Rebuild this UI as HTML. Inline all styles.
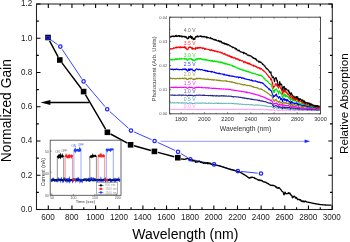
<!DOCTYPE html>
<html><head><meta charset="utf-8"><style>html,body{margin:0;padding:0;background:#fff;overflow:hidden}svg{display:block;will-change:transform}</style></head>
<body><svg width="350" height="242" viewBox="0 0 350 242"><rect x="0" y="0" width="350" height="242" fill="#fff"/><rect x="36.5" y="4.0" width="295.80" height="205.50" fill="none" stroke="#222" stroke-width="1.05"/><path d="M48.30 209.5v-4M48.30 4.0v4M60.12 209.5v-2.3M60.12 4.0v2.3M71.95 209.5v-4M71.95 4.0v4M83.78 209.5v-2.3M83.78 4.0v2.3M95.60 209.5v-4M95.60 4.0v4M107.42 209.5v-2.3M107.42 4.0v2.3M119.25 209.5v-4M119.25 4.0v4M131.07 209.5v-2.3M131.07 4.0v2.3M142.90 209.5v-4M142.90 4.0v4M154.72 209.5v-2.3M154.72 4.0v2.3M166.55 209.5v-4M166.55 4.0v4M178.38 209.5v-2.3M178.38 4.0v2.3M190.20 209.5v-4M190.20 4.0v4M202.02 209.5v-2.3M202.02 4.0v2.3M213.85 209.5v-4M213.85 4.0v4M225.68 209.5v-2.3M225.68 4.0v2.3M237.50 209.5v-4M237.50 4.0v4M249.32 209.5v-2.3M249.32 4.0v2.3M261.15 209.5v-4M261.15 4.0v4M272.97 209.5v-2.3M272.97 4.0v2.3M284.80 209.5v-4M284.80 4.0v4M296.62 209.5v-2.3M296.62 4.0v2.3M308.45 209.5v-4M308.45 4.0v4M320.27 209.5v-2.3M320.27 4.0v2.3M332.10 209.5v-4M332.10 4.0v4M36.5 209.50h4M332.3 209.50h-4M36.5 192.38h2.3M332.3 192.38h-2.3M36.5 175.25h4M332.3 175.25h-4M36.5 158.12h2.3M332.3 158.12h-2.3M36.5 141.00h4M332.3 141.00h-4M36.5 123.88h2.3M332.3 123.88h-2.3M36.5 106.75h4M332.3 106.75h-4M36.5 89.62h2.3M332.3 89.62h-2.3M36.5 72.50h4M332.3 72.50h-4M36.5 55.38h2.3M332.3 55.38h-2.3M36.5 38.25h4M332.3 38.25h-4M36.5 21.12h2.3M332.3 21.12h-2.3M36.5 4.00h4M332.3 4.00h-4" stroke="#000" stroke-width="1.1" fill="none"/><g font-family='"Liberation Sans", sans-serif' font-size="8.1" fill="#1a1a1a"><text transform="translate(32.2 211.80) scale(1 1.13)" text-anchor="end">0.0</text><text transform="translate(32.2 177.55) scale(1 1.13)" text-anchor="end">0.2</text><text transform="translate(32.2 143.30) scale(1 1.13)" text-anchor="end">0.4</text><text transform="translate(32.2 109.05) scale(1 1.13)" text-anchor="end">0.6</text><text transform="translate(32.2 74.80) scale(1 1.13)" text-anchor="end">0.8</text><text transform="translate(32.2 40.55) scale(1 1.13)" text-anchor="end">1.0</text><text transform="translate(32.2 6.30) scale(1 1.13)" text-anchor="end">1.2</text><text transform="translate(48.00 220.1) scale(1 1.13)" text-anchor="middle">600</text><text transform="translate(71.65 220.1) scale(1 1.13)" text-anchor="middle">800</text><text transform="translate(95.30 220.1) scale(1 1.13)" text-anchor="middle">1000</text><text transform="translate(118.95 220.1) scale(1 1.13)" text-anchor="middle">1200</text><text transform="translate(142.60 220.1) scale(1 1.13)" text-anchor="middle">1400</text><text transform="translate(166.25 220.1) scale(1 1.13)" text-anchor="middle">1600</text><text transform="translate(189.90 220.1) scale(1 1.13)" text-anchor="middle">1800</text><text transform="translate(213.55 220.1) scale(1 1.13)" text-anchor="middle">2000</text><text transform="translate(237.20 220.1) scale(1 1.13)" text-anchor="middle">2200</text><text transform="translate(260.85 220.1) scale(1 1.13)" text-anchor="middle">2400</text><text transform="translate(284.50 220.1) scale(1 1.13)" text-anchor="middle">2600</text><text transform="translate(308.15 220.1) scale(1 1.13)" text-anchor="middle">2800</text><text transform="translate(331.80 220.1) scale(1 1.13)" text-anchor="middle">3000</text></g><text x="132.3" y="238.6" font-family='"Liberation Sans", sans-serif' font-size="14.0" fill="#000">Wavelength (nm)</text><text transform="translate(11.3 162.2) rotate(-90)" font-family='"Liberation Sans", sans-serif' font-size="13.85" fill="#000">Normalized Gain</text><text transform="translate(348.0 154.0) rotate(-90)" font-family='"Liberation Sans", sans-serif' font-size="11.7" fill="#000">Relative Absorption</text><path d="M50.58 39.62L57.62 44.68M62.14 49.34L81.76 78.66M85.74 83.92L105.06 106.68M109.65 111.41L128.55 128.39M134.02 131.93L151.58 139.67M157.60 142.38L175.00 150.42M180.83 153.50L187.47 157.50M193.52 159.90L210.88 163.70M217.28 165.30L234.62 170.20M241.08 171.44L257.72 173.16" fill="none" stroke="#2b3bff" stroke-width="0.95"/><path d="M181.00 158.90 181.51 158.97 182.03 159.04 182.54 159.11 183.06 159.19 183.57 159.26 184.09 159.33 184.60 159.40 185.16 159.20 185.72 159.00 186.28 158.80 186.84 158.60 187.40 158.40 187.97 158.65 188.55 158.90 189.12 159.15 189.70 159.40 190.25 160.23 190.80 159.91 191.35 159.86 191.90 160.87 192.45 159.77 193.00 161.10 193.50 160.54 194.00 160.57 194.50 160.76 195.00 161.27 195.50 162.21 196.00 161.55 196.58 162.05 197.16 162.07 197.74 161.64 198.32 161.83 198.90 161.09 199.40 161.23 199.90 161.58 200.40 162.39 200.90 162.18 201.40 162.16 201.90 162.69 202.40 162.65 202.90 162.58 203.40 163.41 203.90 163.26 204.40 162.61 204.90 163.06 205.40 162.98 205.90 163.45 206.40 163.24 206.90 162.60 207.42 163.70 207.95 162.63 208.47 163.18 208.99 163.78 209.52 163.07 210.04 163.67 210.56 163.17 211.08 164.18 211.61 164.45 212.13 164.21 212.65 164.34 213.18 164.47 213.70 164.60 214.22 164.72 214.75 164.83 215.27 164.95 215.80 165.07 216.32 165.18 216.85 165.30 217.38 165.42 217.90 165.53 218.43 165.65 218.95 165.77 219.47 165.88 220.00 166.00 220.50 166.17 221.00 166.33 221.50 166.50 222.00 166.67 222.50 166.83 223.00 167.00 223.50 167.17 224.00 167.33 224.50 167.50 225.00 167.67 225.50 167.83 226.00 168.00 226.50 168.18 227.00 168.35 227.50 168.53 228.00 168.70 228.50 168.88 229.00 169.05 229.50 169.22 230.00 169.40 230.50 169.52 231.00 169.64 231.50 169.76 232.00 169.88 232.50 170.00 233.00 170.12 233.50 170.24 234.00 170.36 234.50 170.48 235.00 170.60 235.51 170.76 236.02 170.92 236.53 171.08 237.04 171.24 237.55 171.40 238.06 171.56 238.57 171.72 239.08 171.88 239.59 172.04 240.10 172.20 240.62 172.51 241.14 172.82 241.66 173.13 242.18 173.44 242.70 173.75 243.22 174.06 243.74 174.37 244.26 174.68 244.78 174.99 245.30 175.30 245.81 175.66 246.33 176.03 246.84 176.39 247.35 176.75 247.86 177.11 248.38 177.47 248.89 177.84 249.40 178.20 249.90 177.95 250.40 177.37 250.90 177.71 251.40 177.28 251.92 177.07 252.43 177.26 252.95 177.44 253.47 177.57 253.98 177.52 254.50 178.14 255.02 178.58 255.53 178.54 256.05 178.89 256.57 178.94 257.08 179.29 257.60 179.79 258.12 179.80 258.63 180.26 259.15 179.86 259.67 179.83 260.18 180.55 260.70 180.32 261.21 180.27 261.72 180.77 262.23 180.63 262.74 181.20 263.25 181.73 263.76 181.87 264.27 181.98 264.78 181.89 265.29 182.19 265.80 182.27 266.32 182.95 266.84 183.04 267.36 183.48 267.88 183.42 268.40 183.61 268.92 184.28 269.44 184.66 269.96 184.83 270.48 185.05 271.00 185.32 271.51 185.40 272.03 185.17 272.54 185.50 273.06 185.51 273.57 185.41 274.09 185.54 274.60 185.85 275.11 186.06 275.62 186.60 276.13 187.43 276.64 186.85 277.16 187.87 277.67 188.18 278.18 188.36 278.69 187.65 279.20 187.65 279.80 188.40 280.40 189.08 281.00 189.83 281.57 190.73 282.13 191.41 282.70 191.54 283.35 192.72 284.00 194.74 284.50 194.13 285.00 192.14 285.57 193.18 286.15 193.71 286.73 193.63 287.30 193.70 287.88 193.26 288.46 192.79 289.04 193.76 289.62 193.03 290.20 193.78 290.77 194.98 291.35 194.98 291.93 195.92 292.50 197.71 293.10 197.29 293.70 196.34 294.30 196.20 294.88 196.54 295.45 198.05 296.03 198.19 296.60 197.43 297.17 198.91 297.73 199.54 298.30 199.40 298.87 199.29 299.43 199.99 300.00 199.71 300.60 199.67 301.20 201.35 301.80 200.99 302.40 200.94 302.91 201.72 303.42 201.04 303.93 201.86 304.44 201.91 304.96 201.05 305.47 201.24 305.98 201.42 306.49 201.88 307.00 202.00 307.50 202.10 308.00 202.20 308.50 202.30 309.00 202.40 309.50 202.50 310.00 202.60 310.50 202.71 311.00 202.82 311.50 202.93 312.00 203.04 312.50 203.15 313.00 203.26 313.50 203.37 314.00 203.48 314.50 203.59 315.00 203.70 315.50 203.78 316.00 203.86 316.50 203.94 317.00 204.02 317.50 204.10 318.00 204.18 318.50 204.26 319.00 204.34 319.50 204.42 320.00 204.50 320.50 204.55 321.00 204.60 321.50 204.65 322.00 204.70 322.50 204.75 323.00 204.80 323.50 204.85 324.00 204.90 324.50 204.95 325.00 205.00 325.50 205.02 326.00 205.03 326.50 205.05 327.00 205.06 327.50 205.08 328.00 205.09 328.50 205.11 329.00 205.12 329.50 205.14 330.00 205.15 330.50 205.17 331.00 205.18 331.50 205.20" fill="none" stroke="#000" stroke-width="1.35" stroke-linejoin="round"/><path d="M49.59 40.88L58.11 56.82M61.97 62.88L81.43 88.72M85.42 94.71L105.58 129.19M110.57 134.01L127.43 143.09M134.07 145.76L150.93 150.44M157.88 152.34L174.32 156.76" fill="none" stroke="#000" stroke-width="1.45"/><path d="M50 102.5H89.2" stroke="#000" stroke-width="1.5"/><path d="M40.5 102.5L50.4 100.1L50.4 104.9Z" fill="#000"/><rect x="50.2" y="140.2" width="70.80" height="55.10" fill="#fff" stroke="#4a4a4a" stroke-width="0.85"/><path d="M51.20 180.13 51.50 180.98 51.80 180.75 52.10 179.20 52.40 179.17 52.70 179.87 53.00 179.06 53.30 179.43 53.60 179.06 53.90 180.37 54.20 180.62 54.50 180.87 54.80 179.24 55.10 180.48 55.40 180.35 55.70 179.21 56.00 180.84 56.30 181.03 56.60 179.38 56.90 181.00 57.20 179.78 57.50 179.97 57.80 181.08 58.10 180.73 58.40 179.26 58.70 179.85 59.00 180.03 59.30 179.65 59.60 179.33 59.90 179.60 60.20 180.49 60.50 178.94 60.80 180.12 61.10 179.87 61.40 178.94 61.70 179.63 62.00 180.27 62.30 180.03 62.60 179.04 62.90 181.07 63.20 180.63 63.50 181.04 63.80 179.13 64.10 179.48 64.40 178.99 64.70 180.61 65.00 179.49 65.30 179.19 65.60 179.83 65.90 180.91 66.20 180.70 66.50 179.47 66.80 179.23 67.10 180.92 67.40 180.16 67.70 180.44 68.00 179.10 68.30 179.03 68.60 180.41 68.90 179.84 69.20 179.06 69.50 180.96 69.80 180.30 70.10 180.66 70.40 179.08 70.70 180.78 71.00 179.05 71.30 180.80 71.60 179.90 71.90 179.65 72.20 180.12 72.50 180.94 72.80 179.49 73.10 179.18 73.40 180.06 73.70 179.42 74.00 179.14 74.30 179.26 74.60 179.01 74.90 179.34 75.20 179.59 75.50 179.57 75.80 180.57 76.10 179.54 76.40 180.00 76.70 179.29 77.00 179.66 77.30 178.94 77.60 179.45 77.90 178.93 78.20 180.51 78.50 180.11 78.80 179.32 79.10 179.94 79.40 180.96 79.70 179.13 80.00 180.70 80.30 179.85 80.60 179.99 80.90 180.74 81.20 179.76 81.50 180.01 81.80 180.41 82.10 181.06 82.40 179.65 82.70 180.73 83.00 180.45 83.30 180.30 83.60 179.79 83.90 179.66 84.20 179.02 84.50 179.19 84.80 179.06 85.10 180.53 85.40 179.46 85.70 179.26 86.00 179.09 86.30 180.75 86.60 180.82 86.90 180.38 87.20 179.52 87.50 179.43 87.80 179.54 88.10 179.91 88.40 179.25 88.70 179.88 89.00 179.48 89.30 181.02 89.60 181.04 89.90 180.10 90.20 179.44 90.50 181.02 90.80 179.58 91.10 179.68 91.40 178.90 91.70 179.74 92.00 179.94 92.30 180.01 92.60 179.34 92.90 180.01 93.20 178.91 93.50 179.48 93.80 179.10 94.10 179.78 94.40 178.99 94.70 178.95 95.00 179.57 95.30 179.41 95.60 180.19 95.90 180.06 96.20 180.55 96.50 180.35 96.80 180.48 97.10 180.83 97.40 179.76 97.70 179.62 98.00 181.07 98.30 179.23 98.60 180.49 98.90 180.32 99.20 179.00 99.50 180.74 99.80 180.86 100.10 180.28 100.40 180.51 100.70 180.69 101.00 179.21 101.30 180.05 101.60 180.01 101.90 180.74 102.20 180.67 102.50 180.72 102.80 180.18 103.10 180.86 103.40 180.40 103.70 180.43 104.00 179.41 104.30 178.97 104.60 179.19 104.90 179.69 105.20 179.13 105.50 180.74 105.80 180.13 106.10 180.28 106.40 180.28 106.70 180.40 107.00 179.98 107.30 178.91 107.60 180.65 107.90 180.55 108.20 180.01 108.50 180.08 108.80 180.35 109.10 179.05 109.40 180.52 109.70 179.45 110.00 179.06 110.30 179.48 110.60 180.50 110.90 179.35 111.20 180.53 111.50 181.05 111.80 179.99 112.10 179.74 112.40 179.95 112.70 180.40 113.00 180.59 113.30 180.26 113.60 180.31 113.90 179.07 114.20 179.22 114.50 179.46 114.80 180.54 115.10 179.57 115.40 180.15 115.70 178.93 116.00 179.03 116.30 179.49 116.60 180.38 116.90 180.42 117.20 180.39 117.50 179.54 117.80 180.04 118.10 179.92 118.40 179.93 118.70 179.16 119.00 180.87 119.30 179.34 119.60 181.05 119.90 180.96" stroke="#1a3cff" stroke-width="1.6" fill="none"/><path d="M51.20 179.32 51.50 179.94 51.80 180.45 52.10 180.66 52.40 179.93 52.70 179.68 53.00 179.59 53.30 180.62 53.60 179.59 53.90 180.11 54.20 179.50 54.50 180.03 54.80 180.63 55.10 179.49 55.40 180.45 55.70 180.01 56.00 180.54 56.30 180.28 56.60 179.62 56.90 180.56 57.20 179.98 57.50 179.33 57.80 179.31 58.10 179.99 58.40 179.93 58.70 179.72 59.00 179.50 59.30 179.78 59.60 179.74 59.90 180.48 60.20 179.30 60.50 180.35 60.80 180.47 61.10 179.47 61.40 180.60 61.70 180.30 62.00 180.56 62.30 179.71 62.60 179.82 62.90 179.85 63.20 180.70 63.50 180.12 63.80 179.80 64.10 179.90 64.40 179.69 64.70 179.37 65.00 179.44 65.30 180.47 65.60 179.70 65.90 180.61 66.20 179.65 66.50 179.67 66.80 180.02 67.10 179.57 67.40 179.82 67.70 180.64 68.00 180.54 68.30 180.44 68.60 180.18 68.90 180.58 69.20 180.62 69.50 180.07 69.80 180.31 70.10 179.37 70.40 180.33 70.70 179.93 71.00 180.35 71.30 180.20 71.60 179.70 71.90 179.37 72.20 180.60 72.50 179.48 72.80 179.96 73.10 179.78 73.40 179.72 73.70 180.33 74.00 180.67 74.30 179.66 74.60 180.22 74.90 179.72 75.20 180.08 75.50 179.85 75.80 179.53 76.10 179.53 76.40 179.59 76.70 180.57 77.00 180.00 77.30 179.61 77.60 180.57 77.90 180.70 78.20 179.93 78.50 179.50 78.80 179.57 79.10 179.43 79.40 179.78 79.70 179.43 80.00 179.63 80.30 179.66 80.60 180.10 80.90 180.54 81.20 180.35 81.50 179.88 81.80 179.88 82.10 180.03 82.40 179.83 82.70 179.77 83.00 179.39 83.30 179.69 83.60 180.65 83.90 179.48 84.20 180.00 84.50 180.18 84.80 180.51 85.10 179.60 85.40 179.68 85.70 179.65 86.00 179.86 86.30 179.92 86.60 180.64 86.90 180.49 87.20 180.52 87.50 179.33 87.80 179.35 88.10 180.29 88.40 180.55 88.70 179.96 89.00 180.12 89.30 179.30 89.60 179.85 89.90 180.60 90.20 180.46 90.50 180.50 90.80 180.66 91.10 179.65 91.40 179.45 91.70 179.52 92.00 180.03 92.30 180.25 92.60 180.62 92.90 180.31 93.20 180.21 93.50 180.37 93.80 179.94 94.10 180.07 94.40 179.36 94.70 180.40 95.00 179.63 95.30 180.59 95.60 180.20 95.90 179.73 96.20 179.48 96.50 179.65 96.80 180.19 97.10 180.28 97.40 179.46 97.70 179.40 98.00 180.03 98.30 180.12 98.60 179.84 98.90 179.61 99.20 180.14 99.50 179.31 99.80 179.72 100.10 179.94 100.40 180.64 100.70 180.20 101.00 180.54 101.30 179.97 101.60 179.63 101.90 179.65 102.20 180.64 102.50 180.29 102.80 179.73 103.10 179.33 103.40 180.00 103.70 180.24 104.00 179.89 104.30 179.66 104.60 180.23 104.90 180.60 105.20 179.62 105.50 179.35 105.80 179.77 106.10 179.89 106.40 180.26 106.70 179.58 107.00 180.42 107.30 180.33 107.60 180.01 107.90 179.59 108.20 180.66 108.50 179.74 108.80 180.45 109.10 179.62 109.40 179.61 109.70 180.36 110.00 179.71 110.30 180.63 110.60 179.99 110.90 179.56 111.20 179.61 111.50 179.88 111.80 180.23 112.10 180.63 112.40 179.50 112.70 179.85 113.00 179.60 113.30 180.66 113.60 179.50 113.90 179.37 114.20 179.38 114.50 179.85 114.80 180.56 115.10 180.54 115.40 180.33 115.70 180.70 116.00 180.60 116.30 179.76 116.60 179.56 116.90 180.61 117.20 180.34 117.50 179.34 117.80 180.23 118.10 179.83 118.40 179.82 118.70 179.76 119.00 179.54 119.30 179.30 119.60 179.69 119.90 179.79" stroke="#000" stroke-width="0.9" fill="none"/><path d="M57.3 179.6L57.3 156.2M63.7 156.2L63.7 179.6" stroke="#444" stroke-width="0.6" fill="none"/><path d="M57.30 156.92 57.60 156.59 57.90 156.91 58.20 156.51 58.50 156.01 58.80 157.14 59.10 156.66 59.40 155.97 59.70 156.85 60.00 156.48 60.30 155.57 60.60 156.96 60.90 156.34 61.20 156.55 61.50 156.20 61.80 156.00 62.10 155.33 62.40 156.42 62.70 155.95 63.00 155.77 63.30 156.01 63.60 155.85" stroke="#000" stroke-width="1.6" fill="none"/><path d="M65.2 179.6L65.2 156.0M72.5 156.0L72.5 179.6" stroke="#ff5050" stroke-width="0.6" fill="none"/><path d="M65.20 156.80 65.50 156.30 65.80 156.41 66.10 155.43 66.40 156.16 66.70 156.62 67.00 156.88 67.30 156.08 67.60 156.15 67.90 156.88 68.20 155.98 68.50 156.42 68.80 156.81 69.10 156.04 69.40 156.53 69.70 155.63 70.00 156.00 70.30 155.84 70.60 155.89 70.90 156.31 71.20 156.84 71.50 155.42 71.80 155.43 72.10 155.87 72.40 155.14" stroke="#ff1a1a" stroke-width="1.6" fill="none"/><path d="M73.9 179.6L73.9 150.0M81.0 150.0L81.0 179.6" stroke="#5070ff" stroke-width="0.6" fill="none"/><path d="M73.90 150.72 74.20 150.72 74.50 150.30 74.80 150.62 75.10 149.65 75.40 150.65 75.70 149.58 76.00 149.92 76.30 149.95 76.60 149.98 76.90 150.51 77.20 150.12 77.50 149.86 77.80 150.25 78.10 150.68 78.40 149.93 78.70 150.06 79.00 150.41 79.30 149.94 79.60 149.20 79.90 150.86 80.20 150.70 80.50 148.77 80.80 149.61" stroke="#1a3cff" stroke-width="1.6" fill="none"/><path d="M89.8 179.6L89.8 156.2M96.4 156.2L96.4 179.6" stroke="#444" stroke-width="0.6" fill="none"/><path d="M89.80 156.89 90.10 157.09 90.40 156.92 90.70 156.45 91.00 156.06 91.30 156.54 91.60 156.92 91.90 155.92 92.20 155.91 92.50 156.32 92.80 155.42 93.10 156.13 93.40 156.01 93.70 156.37 94.00 155.81 94.30 155.69 94.60 155.87 94.90 155.98 95.20 155.66 95.50 155.93 95.80 156.22 96.10 156.37 96.40 156.57" stroke="#000" stroke-width="1.6" fill="none"/><path d="M98.1 179.6L98.1 155.8M104.6 155.8L104.6 179.6" stroke="#ff5050" stroke-width="0.6" fill="none"/><path d="M98.10 155.95 98.40 156.07 98.70 155.10 99.00 157.03 99.30 155.81 99.60 156.08 99.90 156.29 100.20 155.40 100.50 156.18 100.80 155.91 101.10 155.06 101.40 155.97 101.70 156.34 102.00 154.92 102.30 156.08 102.60 155.77 102.90 155.85 103.20 155.79 103.50 156.14 103.80 155.41 104.10 155.86 104.40 155.24" stroke="#ff1a1a" stroke-width="1.6" fill="none"/><path d="M106.3 179.6L106.3 149.6M113.3 149.6L113.3 179.6" stroke="#5070ff" stroke-width="0.6" fill="none"/><path d="M106.30 150.43 106.60 149.70 106.90 149.97 107.20 150.76 107.50 150.15 107.80 149.84 108.10 149.35 108.40 149.47 108.70 149.88 109.00 150.18 109.30 149.91 109.60 149.91 109.90 149.62 110.20 150.21 110.50 149.38 110.80 149.27 111.10 149.88 111.40 149.47 111.70 149.28 112.00 149.11 112.30 149.21 112.60 149.57 112.90 149.41 113.20 148.67" stroke="#1a3cff" stroke-width="1.6" fill="none"/><path d="M72.00 179.48 72.35 179.52 72.70 179.87 73.05 180.06 73.40 180.17 73.75 179.51 74.10 179.60 74.45 180.23 74.80 179.89 75.15 179.74 75.50 179.77 75.85 180.54" stroke="#ff1a1a" stroke-width="1.2" fill="none"/><path d="M104.50 179.77 104.85 180.08 105.20 179.83 105.55 179.90 105.90 180.44 106.25 180.60 106.60 179.84 106.95 179.64 107.30 180.27 107.65 179.64 108.00 179.41" stroke="#ff1a1a" stroke-width="1.2" fill="none"/><rect x="96.6" y="182.6" width="21" height="12" fill="#fff" stroke="#666" stroke-width="0.5"/><path d="M98.4 185.40h5" stroke="#000" stroke-width="0.6"/><circle cx="100.9" cy="185.40" r="1.15" fill="#000"/><text x="105.2" y="186.40" font-family='"Liberation Sans", sans-serif' font-size="3.0" fill="#999">600 nm</text><path d="M98.4 188.95h5" stroke="#ff1a1a" stroke-width="0.6"/><circle cx="100.9" cy="188.95" r="1.15" fill="#ff1a1a"/><text x="105.2" y="189.95" font-family='"Liberation Sans", sans-serif' font-size="3.0" fill="#999">1300 nm</text><path d="M98.4 192.50h5" stroke="#1a3cff" stroke-width="0.6"/><circle cx="100.9" cy="192.50" r="1.15" fill="#1a3cff"/><text x="105.2" y="193.50" font-family='"Liberation Sans", sans-serif' font-size="3.0" fill="#999">1500 nm</text><g font-family='"Liberation Sans", sans-serif' font-size="3.6" fill="#555"><text x="48.8" y="153.0" text-anchor="end">50</text><text x="48.8" y="174.6" text-anchor="end">40</text><text x="48.8" y="196.6" text-anchor="end">30</text><text x="52" y="199.2" text-anchor="middle">50</text><text x="73.4" y="199.2" text-anchor="middle">100</text><text x="94.9" y="199.2" text-anchor="middle">150</text><text x="117.8" y="199.2" text-anchor="middle">200</text></g><text x="75.8" y="203.2" font-family='"Liberation Sans", sans-serif' font-size="4.15" fill="#333">Time (sec)</text><text transform="translate(44.9 186.2) rotate(-90)" font-family='"Liberation Sans", sans-serif' font-size="5.1" fill="#333">Current (nA)</text><g font-family='"Liberation Sans", sans-serif' font-size="2.9" fill="#666"><text x="57.4" y="152.9" text-anchor="middle">ON</text><text x="64.2" y="152.4" text-anchor="middle">OFF</text><text x="73.6" y="147.2" text-anchor="middle" fill="#4060ff">ON</text><text x="81.0" y="146.3" text-anchor="middle" fill="#4060ff">OFF</text></g><path d="M50.2 151.2h1.5M50.2 172.2h1.5M50.2 194.0h1.5M52 195.3v-1.5M73.4 195.3v-1.5M94.9 195.3v-1.5M116.4 195.3v-1.5" stroke="#333" stroke-width="0.5"/><rect x="45.2" y="34.7" width="5.6" height="5.6" fill="#000"/><rect x="57.00" y="57.20" width="5.6" height="5.6" fill="#000"/><rect x="80.80" y="88.80" width="5.6" height="5.6" fill="#000"/><rect x="104.60" y="129.50" width="5.6" height="5.6" fill="#000"/><rect x="127.80" y="142.00" width="5.6" height="5.6" fill="#000"/><rect x="151.60" y="148.60" width="5.6" height="5.6" fill="#000"/><rect x="175.00" y="154.90" width="5.6" height="5.6" fill="#000"/><circle cx="47.9" cy="37.7" r="1.7" fill="none" stroke="#1e22ff" stroke-width="1.25"/><circle cx="60.3" cy="46.6" r="1.7" fill="none" stroke="#1e22ff" stroke-width="1.25"/><circle cx="83.6" cy="81.4" r="1.7" fill="none" stroke="#1e22ff" stroke-width="1.25"/><circle cx="107.2" cy="109.2" r="1.7" fill="none" stroke="#1e22ff" stroke-width="1.25"/><circle cx="131.0" cy="130.6" r="1.7" fill="none" stroke="#1e22ff" stroke-width="1.25"/><circle cx="154.6" cy="141.0" r="1.7" fill="none" stroke="#1e22ff" stroke-width="1.25"/><circle cx="178.0" cy="151.8" r="1.7" fill="none" stroke="#1e22ff" stroke-width="1.25"/><circle cx="190.3" cy="159.2" r="1.7" fill="none" stroke="#1e22ff" stroke-width="1.25"/><circle cx="214.1" cy="164.4" r="1.7" fill="none" stroke="#1e22ff" stroke-width="1.25"/><circle cx="237.8" cy="171.1" r="1.7" fill="none" stroke="#1e22ff" stroke-width="1.25"/><circle cx="261.0" cy="173.5" r="1.7" fill="none" stroke="#1e22ff" stroke-width="1.25"/><path d="M160.6 141.3H305" stroke="#8a8aff" stroke-width="0.9"/><path d="M310.2 141.3L304.6 139.5L304.6 143.1Z" fill="#1a2aff"/><rect x="169.6" y="17.2" width="150.90" height="96.60" fill="#fff" stroke="#4a4a4a" stroke-width="1.0"/><path d="M170.20 109.13 170.50 109.34 170.80 109.34 171.10 109.42 171.40 109.62 171.70 109.27 172.00 109.30 172.30 109.19 172.60 109.42 172.90 109.56 173.20 109.56 173.50 109.07 173.80 109.47 174.10 109.36 174.40 109.33 174.70 109.24 175.00 109.33 175.30 109.45 175.60 109.50 175.90 109.52 176.20 109.29 176.50 109.40 176.80 109.28 177.10 109.53 177.40 109.41 177.70 109.21 178.00 109.55 178.30 109.65 178.60 109.16 178.90 109.67 179.20 109.48 179.50 109.39 179.80 109.08 180.10 109.22 180.40 109.27 180.70 109.52 181.00 109.39 181.30 109.43 181.60 109.42 181.90 109.47 182.20 109.36 182.50 109.60 182.80 109.08 183.10 109.27 183.40 109.35 183.70 109.28 184.00 109.59 184.30 109.34 184.60 109.13 184.90 109.32 185.20 109.34 185.50 109.28 185.80 109.31 186.10 109.34 186.40 109.54 186.70 109.45 187.00 109.56 187.30 109.53 187.60 109.73 187.90 109.53 188.20 109.53 188.50 109.61 188.80 109.62 189.10 109.59 189.40 109.30 189.70 109.21 190.00 109.80 190.30 109.20 190.60 109.30 190.90 109.20 191.20 109.45 191.50 109.40 191.80 109.07 192.10 109.59 192.40 109.39 192.70 109.67 193.00 109.68 193.30 109.54 193.60 109.66 193.90 109.37 194.20 109.50 194.50 109.49 194.80 109.55 195.10 109.59 195.40 109.50 195.70 109.38 196.00 109.51 196.30 109.36 196.60 109.53 196.90 109.28 197.20 109.24 197.50 109.73 197.80 109.22 198.10 109.52 198.40 109.64 198.70 109.51 199.00 109.47 199.30 109.39 199.60 109.40 199.90 109.29 200.20 109.48 200.50 109.51 200.80 109.22 201.10 109.10 201.40 109.85 201.70 109.38 202.00 109.25 202.30 109.26 202.60 109.52 202.90 109.59 203.20 109.27 203.50 109.36 203.80 109.49 204.10 109.34 204.40 109.45 204.70 109.46 205.00 109.51 205.30 109.55 205.60 109.43 205.90 109.32 206.20 109.21 206.50 109.40 206.80 109.26 207.10 109.35 207.40 109.38 207.70 109.39 208.00 109.54 208.30 109.45 208.60 109.42 208.90 109.64 209.20 109.41 209.50 109.66 209.80 109.40 210.10 109.46 210.40 109.26 210.70 109.42 211.00 109.28 211.30 109.61 211.60 109.44 211.90 109.61 212.20 109.48 212.50 109.27 212.80 109.08 213.10 109.39 213.40 109.33 213.70 109.35 214.00 109.45 214.30 109.42 214.60 109.37 214.90 109.45 215.20 109.31 215.50 109.28 215.80 109.34 216.10 109.56 216.40 109.50 216.70 109.36 217.00 109.47 217.30 109.50 217.60 109.26 217.90 109.68 218.20 109.36 218.50 109.26 218.80 109.42 219.10 109.44 219.40 109.60 219.70 109.59 220.00 109.35 220.30 109.33 220.60 109.37 220.90 109.37 221.20 109.27 221.50 109.39 221.80 109.59 222.10 109.54 222.40 109.36 222.70 109.23 223.00 109.50 223.30 109.58 223.60 109.21 223.90 109.48 224.20 109.66 224.50 109.57 224.80 109.50 225.10 109.40 225.40 109.32 225.70 109.46 226.00 109.58 226.30 109.51 226.60 109.53 226.90 109.40 227.20 109.38 227.50 109.61 227.80 109.42 228.10 109.54 228.40 109.34 228.70 109.26 229.00 109.43 229.30 109.44 229.60 108.98 229.90 109.28 230.20 109.46 230.50 109.37 230.80 109.24 231.10 109.40 231.40 109.48 231.70 109.60 232.00 109.15 232.30 109.41 232.60 109.32 232.90 109.73 233.20 109.47 233.50 109.26 233.80 109.51 234.10 109.54 234.40 109.56 234.70 109.57 235.00 109.36 235.30 109.24 235.60 109.46 235.90 109.41 236.20 109.36 236.50 109.17 236.80 109.52 237.10 109.50 237.40 109.60 237.70 109.49 238.00 109.40 238.30 109.30 238.60 109.38 238.90 109.30 239.20 109.40 239.50 109.32 239.80 109.58 240.10 109.41 240.40 109.49 240.70 109.43 241.00 109.39 241.30 109.15 241.60 109.38 241.90 109.37 242.20 109.59 242.50 109.28 242.80 109.54 243.10 109.53 243.40 109.44 243.70 109.43 244.00 109.57 244.30 109.48 244.60 109.78 244.90 109.11 245.20 109.32 245.50 109.73 245.80 109.51 246.10 109.17 246.40 109.13 246.70 109.26 247.00 109.24 247.30 109.18 247.60 109.37 247.90 109.42 248.20 109.30 248.50 109.44 248.80 109.39 249.10 109.58 249.40 109.27 249.70 109.45 250.00 109.48 250.30 109.58 250.60 109.30 250.90 109.46 251.20 109.28 251.50 109.57 251.80 109.54 252.10 109.63 252.40 109.43 252.70 109.71 253.00 109.40 253.30 109.24 253.60 109.37 253.90 109.46 254.20 109.63 254.50 109.40 254.80 109.39 255.10 109.56 255.40 109.30 255.70 109.61 256.00 109.55 256.30 109.33 256.60 109.47 256.90 109.39 257.20 109.36 257.50 109.53 257.80 109.44 258.10 109.61 258.40 109.50 258.70 109.26 259.00 109.52 259.30 109.59 259.60 109.54 259.90 109.29 260.20 109.40 260.50 109.32 260.80 109.46 261.10 109.39 261.40 109.62 261.70 109.55 262.00 109.86 262.30 109.59 262.60 109.32 262.90 109.51 263.20 109.80 263.50 109.51 263.80 109.60 264.10 109.72 264.40 109.80 264.70 109.78 265.00 109.62 265.30 109.48 265.60 109.58 265.90 109.75 266.20 109.46 266.50 109.72 266.80 109.93 267.10 109.56 267.40 109.84 267.70 109.64 268.00 109.65 268.30 109.83 268.60 109.88 268.90 109.79 269.20 109.88 269.50 109.93 269.80 110.09 270.10 109.66 270.40 109.66 270.70 110.25 271.00 110.05 271.30 109.67 271.60 109.95 271.90 110.23 272.20 109.84 272.50 109.99 272.80 110.13 273.10 109.80 273.40 109.67 273.70 110.12 274.00 110.11 274.30 110.45 274.60 110.30 274.90 110.42 275.20 110.38 275.50 110.07 275.80 109.99 276.10 109.71 276.40 109.79 276.70 109.77 277.00 110.12 277.30 110.12 277.60 110.00 277.90 109.96 278.20 110.21 278.50 110.52 278.80 110.59 279.10 109.69 279.40 109.95 279.70 110.17 280.00 109.86 280.30 110.11 280.60 110.34 280.90 110.08 281.20 109.79 281.50 109.64 281.80 109.77 282.10 110.16 282.40 110.53 282.70 110.54 283.00 109.91 283.30 110.09 283.60 109.99 283.90 109.76 284.20 110.07 284.50 110.08 284.80 110.43 285.10 110.21 285.40 109.93 285.70 109.91 286.00 110.45 286.30 110.27 286.60 110.20 286.90 109.88 287.20 110.05 287.50 109.78 287.80 110.11 288.10 110.02 288.40 109.90 288.70 110.20 289.00 110.02 289.30 110.01 289.60 110.25 289.90 109.89 290.20 110.07 290.50 110.79 290.80 110.50 291.10 110.22 291.40 109.97 291.70 109.74 292.00 110.12 292.30 110.11 292.60 110.15 292.90 110.35 293.20 110.31 293.50 110.23 293.80 110.35 294.10 110.23 294.40 109.96 294.70 110.35 295.00 110.12 295.30 110.54 295.60 109.55 295.90 110.03 296.20 110.16 296.50 110.21 296.80 109.81 297.10 110.10 297.40 110.20 297.70 110.00 298.00 110.30 298.30 110.13 298.60 110.16 298.90 110.45 299.20 109.98 299.50 110.14 299.80 110.77 300.10 110.53 300.40 110.10 300.70 110.23 301.00 110.02 301.30 109.94 301.60 110.08 301.90 110.40 302.20 110.38 302.50 110.06 302.80 109.71 303.10 110.45 303.40 110.04 303.70 110.34 304.00 110.33 304.30 110.45 304.60 110.08 304.90 110.04 305.20 110.13 305.50 110.31 305.80 110.27 306.10 109.98 306.40 110.32 306.70 110.04 307.00 110.22 307.30 110.18 307.60 110.34 307.90 110.78 308.20 110.11 308.50 109.95 308.80 110.01 309.10 110.26 309.40 110.30 309.70 110.39 310.00 110.06 310.30 110.01 310.60 110.26 310.90 110.59 311.20 110.48 311.50 110.51 311.80 110.41 312.10 110.52 312.40 110.19 312.70 110.55 313.00 110.47 313.30 110.50 313.60 110.23 313.90 110.24 314.20 110.21 314.50 110.63 314.80 110.04 315.10 110.25 315.40 110.39 315.70 110.07 316.00 110.39 316.30 110.58 316.60 110.49 316.90 110.11 317.20 110.37 317.50 110.16 317.80 109.83 318.10 110.56 318.40 110.52 318.70 110.10 319.00 110.62 319.30 110.58 319.60 110.89" stroke="#ff77ff" stroke-width="1.0" fill="none" stroke-linejoin="round"/><path d="M170.20 102.65 170.50 102.77 170.80 102.87 171.10 102.83 171.40 103.19 171.70 102.90 172.00 102.89 172.30 102.81 172.60 102.53 172.90 102.96 173.20 102.74 173.50 103.02 173.80 102.79 174.10 102.80 174.40 103.00 174.70 102.80 175.00 102.62 175.30 102.92 175.60 102.92 175.90 102.92 176.20 102.84 176.50 102.92 176.80 102.75 177.10 102.87 177.40 102.98 177.70 102.45 178.00 102.96 178.30 103.05 178.60 103.11 178.90 102.85 179.20 102.97 179.50 102.89 179.80 102.77 180.10 102.96 180.40 103.04 180.70 103.03 181.00 102.66 181.30 102.89 181.60 102.91 181.90 102.94 182.20 102.73 182.50 103.21 182.80 102.72 183.10 102.80 183.40 103.18 183.70 102.98 184.00 102.84 184.30 102.85 184.60 103.05 184.90 102.87 185.20 103.06 185.50 103.04 185.80 103.03 186.10 103.12 186.40 102.97 186.70 102.94 187.00 103.02 187.30 103.33 187.60 103.24 187.90 103.51 188.20 103.06 188.50 103.32 188.80 103.02 189.10 103.01 189.40 102.74 189.70 102.99 190.00 103.21 190.30 102.80 190.60 103.19 190.90 103.13 191.20 103.14 191.50 102.89 191.80 103.27 192.10 102.94 192.40 103.40 192.70 103.45 193.00 103.12 193.30 103.57 193.60 103.55 193.90 103.24 194.20 103.05 194.50 103.29 194.80 103.31 195.10 103.43 195.40 103.09 195.70 103.02 196.00 103.13 196.30 103.12 196.60 102.83 196.90 103.14 197.20 103.00 197.50 103.02 197.80 103.17 198.10 103.18 198.40 103.16 198.70 103.34 199.00 103.13 199.30 103.10 199.60 103.15 199.90 103.31 200.20 103.20 200.50 103.16 200.80 103.26 201.10 102.90 201.40 103.26 201.70 103.23 202.00 103.09 202.30 102.92 202.60 102.90 202.90 102.83 203.20 103.19 203.50 103.12 203.80 103.02 204.10 103.27 204.40 103.01 204.70 103.30 205.00 103.27 205.30 103.23 205.60 103.01 205.90 103.01 206.20 103.18 206.50 103.32 206.80 103.02 207.10 103.21 207.40 103.30 207.70 102.94 208.00 103.45 208.30 103.16 208.60 103.12 208.90 103.22 209.20 103.17 209.50 103.07 209.80 103.12 210.10 103.17 210.40 103.06 210.70 103.35 211.00 103.30 211.30 103.32 211.60 102.99 211.90 103.16 212.20 103.30 212.50 103.22 212.80 102.97 213.10 103.29 213.40 103.52 213.70 103.39 214.00 103.23 214.30 103.08 214.60 103.40 214.90 103.34 215.20 103.21 215.50 103.21 215.80 103.38 216.10 103.25 216.40 103.17 216.70 103.11 217.00 103.22 217.30 103.23 217.60 103.21 217.90 103.89 218.20 103.11 218.50 103.05 218.80 103.19 219.10 103.42 219.40 103.58 219.70 103.07 220.00 103.22 220.30 103.39 220.60 103.21 220.90 103.39 221.20 103.27 221.50 103.48 221.80 103.34 222.10 103.57 222.40 103.14 222.70 103.49 223.00 103.28 223.30 103.50 223.60 103.26 223.90 103.46 224.20 103.50 224.50 103.39 224.80 103.21 225.10 103.26 225.40 103.29 225.70 103.33 226.00 103.51 226.30 103.20 226.60 103.35 226.90 103.38 227.20 103.38 227.50 103.25 227.80 103.57 228.10 103.38 228.40 103.28 228.70 103.38 229.00 103.56 229.30 103.48 229.60 103.57 229.90 103.48 230.20 103.36 230.50 103.24 230.80 103.34 231.10 103.48 231.40 103.27 231.70 103.49 232.00 103.43 232.30 103.73 232.60 103.31 232.90 103.93 233.20 103.73 233.50 103.59 233.80 103.69 234.10 103.92 234.40 103.82 234.70 103.69 235.00 103.68 235.30 103.58 235.60 103.84 235.90 103.94 236.20 103.83 236.50 103.87 236.80 103.77 237.10 103.92 237.40 104.00 237.70 103.77 238.00 104.07 238.30 103.95 238.60 104.08 238.90 104.03 239.20 104.10 239.50 104.11 239.80 104.20 240.10 104.02 240.40 104.13 240.70 104.00 241.00 104.19 241.30 104.35 241.60 104.18 241.90 104.38 242.20 104.20 242.50 104.34 242.80 104.48 243.10 104.37 243.40 104.41 243.70 104.56 244.00 104.48 244.30 104.54 244.60 104.39 244.90 104.35 245.20 104.58 245.50 104.36 245.80 104.68 246.10 104.46 246.40 104.60 246.70 104.69 247.00 104.45 247.30 104.89 247.60 104.64 247.90 104.64 248.20 104.54 248.50 104.48 248.80 104.48 249.10 104.61 249.40 104.85 249.70 104.73 250.00 104.97 250.30 104.70 250.60 104.64 250.90 104.93 251.20 104.85 251.50 104.70 251.80 105.11 252.10 104.97 252.40 104.76 252.70 104.90 253.00 104.86 253.30 105.16 253.60 104.95 253.90 104.95 254.20 105.10 254.50 105.29 254.80 105.28 255.10 105.11 255.40 105.08 255.70 105.06 256.00 105.30 256.30 105.03 256.60 105.19 256.90 105.31 257.20 105.14 257.50 104.92 257.80 105.19 258.10 105.17 258.40 105.17 258.70 105.24 259.00 105.45 259.30 105.15 259.60 105.20 259.90 105.37 260.20 105.53 260.50 105.31 260.80 105.52 261.10 105.60 261.40 105.37 261.70 105.46 262.00 105.63 262.30 105.58 262.60 105.50 262.90 105.61 263.20 105.63 263.50 105.71 263.80 105.78 264.10 105.80 264.40 105.74 264.70 105.86 265.00 105.94 265.30 105.91 265.60 106.20 265.90 105.95 266.20 105.74 266.50 106.25 266.80 106.07 267.10 106.22 267.40 106.17 267.70 106.38 268.00 106.21 268.30 106.40 268.60 106.58 268.90 106.49 269.20 106.33 269.50 106.71 269.80 106.67 270.10 106.56 270.40 106.30 270.70 106.69 271.00 106.62 271.30 106.65 271.60 106.59 271.90 107.04 272.20 106.99 272.50 107.15 272.80 107.47 273.10 107.89 273.40 108.18 273.70 107.65 274.00 107.74 274.30 108.42 274.60 108.15 274.90 108.14 275.20 107.72 275.50 107.45 275.80 107.59 276.10 107.45 276.40 108.03 276.70 108.03 277.00 107.80 277.30 107.85 277.60 108.05 277.90 108.20 278.20 108.31 278.50 108.38 278.80 108.21 279.10 107.62 279.40 107.69 279.70 107.95 280.00 108.03 280.30 108.34 280.60 107.95 280.90 107.64 281.20 108.13 281.50 107.72 281.80 107.81 282.10 107.97 282.40 109.20 282.70 109.03 283.00 107.98 283.30 108.13 283.60 108.10 283.90 108.15 284.20 108.39 284.50 108.49 284.80 108.85 285.10 109.02 285.40 108.25 285.70 108.49 286.00 108.61 286.30 108.85 286.60 108.54 286.90 108.51 287.20 108.39 287.50 108.66 287.80 108.52 288.10 109.27 288.40 108.63 288.70 109.17 289.00 109.05 289.30 109.11 289.60 109.19 289.90 108.99 290.20 109.85 290.50 109.72 290.80 109.05 291.10 109.40 291.40 108.35 291.70 108.90 292.00 108.88 292.30 109.19 292.60 109.26 292.90 109.37 293.20 109.27 293.50 109.55 293.80 109.14 294.10 109.21 294.40 109.89 294.70 109.92 295.00 109.70 295.30 109.48 295.60 109.30 295.90 109.38 296.20 109.04 296.50 109.51 296.80 109.17 297.10 108.98 297.40 109.70 297.70 109.81 298.00 109.76 298.30 109.86 298.60 109.88 298.90 110.00 299.20 109.91 299.50 109.39 299.80 109.97 300.10 109.79 300.40 110.08 300.70 109.67 301.00 109.68 301.30 109.43 301.60 109.82 301.90 109.95 302.20 110.23 302.50 109.84 302.80 110.04 303.10 110.29 303.40 109.59 303.70 110.06 304.00 109.82 304.30 109.48 304.60 109.70 304.90 109.93 305.20 109.70 305.50 110.05 305.80 109.72 306.10 110.13 306.40 109.83 306.70 110.17 307.00 110.16 307.30 110.12 307.60 110.18 307.90 110.54 308.20 110.15 308.50 109.60 308.80 109.86 309.10 110.17 309.40 110.19 309.70 109.86 310.00 110.09 310.30 110.01 310.60 109.94 310.90 109.91 311.20 110.02 311.50 110.28 311.80 109.65 312.10 110.26 312.40 110.08 312.70 109.70 313.00 110.11 313.30 110.03 313.60 109.86 313.90 110.19 314.20 110.02 314.50 110.34 314.80 110.39 315.10 110.19 315.40 110.19 315.70 109.91 316.00 110.11 316.30 110.38 316.60 110.55 316.90 109.76 317.20 110.20 317.50 110.14 317.80 110.63 318.10 110.24 318.40 110.63 318.70 109.74 319.00 109.80 319.30 110.23 319.60 109.89" stroke="#2a9a9a" stroke-width="1.0" fill="none" stroke-linejoin="round"/><path d="M170.20 95.39 170.50 95.04 170.80 95.13 171.10 95.19 171.40 95.26 171.70 95.09 172.00 95.11 172.30 95.10 172.60 94.84 172.90 95.11 173.20 95.29 173.50 95.35 173.80 95.10 174.10 95.06 174.40 95.33 174.70 95.14 175.00 95.39 175.30 95.09 175.60 95.26 175.90 95.19 176.20 95.23 176.50 95.31 176.80 95.22 177.10 95.19 177.40 95.19 177.70 95.42 178.00 95.29 178.30 95.19 178.60 95.00 178.90 95.28 179.20 95.11 179.50 94.98 179.80 95.20 180.10 95.09 180.40 95.20 180.70 95.23 181.00 95.16 181.30 95.11 181.60 95.18 181.90 95.57 182.20 95.08 182.50 95.05 182.80 95.09 183.10 95.04 183.40 95.16 183.70 95.09 184.00 95.25 184.30 95.22 184.60 95.33 184.90 95.21 185.20 95.24 185.50 95.26 185.80 94.84 186.10 95.27 186.40 95.30 186.70 95.38 187.00 95.67 187.30 95.71 187.60 95.92 187.90 95.79 188.20 95.36 188.50 95.50 188.80 95.06 189.10 95.30 189.40 95.48 189.70 95.39 190.00 95.05 190.30 95.42 190.60 95.46 190.90 95.25 191.20 95.24 191.50 95.49 191.80 95.31 192.10 95.12 192.40 95.46 192.70 95.66 193.00 95.87 193.30 96.03 193.60 95.75 193.90 95.72 194.20 95.39 194.50 95.55 194.80 95.74 195.10 95.71 195.40 95.82 195.70 95.57 196.00 95.10 196.30 95.35 196.60 95.11 196.90 95.16 197.20 95.22 197.50 95.21 197.80 95.24 198.10 95.14 198.40 95.33 198.70 95.17 199.00 95.19 199.30 95.12 199.60 95.23 199.90 95.10 200.20 95.09 200.50 95.35 200.80 95.31 201.10 95.31 201.40 95.28 201.70 95.15 202.00 95.09 202.30 95.44 202.60 95.30 202.90 95.39 203.20 95.33 203.50 95.45 203.80 95.19 204.10 95.49 204.40 95.06 204.70 95.41 205.00 95.57 205.30 95.44 205.60 95.44 205.90 95.31 206.20 95.56 206.50 95.44 206.80 95.54 207.10 95.54 207.40 95.43 207.70 95.40 208.00 95.59 208.30 95.59 208.60 95.53 208.90 95.59 209.20 95.44 209.50 95.54 209.80 95.65 210.10 95.59 210.40 95.22 210.70 95.62 211.00 95.52 211.30 95.56 211.60 95.63 211.90 95.83 212.20 95.34 212.50 95.51 212.80 95.90 213.10 95.57 213.40 95.91 213.70 95.87 214.00 95.56 214.30 95.66 214.60 95.82 214.90 95.95 215.20 95.72 215.50 95.77 215.80 95.70 216.10 96.06 216.40 95.52 216.70 95.81 217.00 95.91 217.30 95.85 217.60 95.75 217.90 95.88 218.20 95.74 218.50 95.70 218.80 96.12 219.10 96.12 219.40 95.76 219.70 95.87 220.00 96.07 220.30 95.89 220.60 95.86 220.90 95.89 221.20 95.68 221.50 95.96 221.80 95.83 222.10 95.91 222.40 95.75 222.70 95.96 223.00 95.92 223.30 95.91 223.60 96.10 223.90 95.67 224.20 95.99 224.50 95.74 224.80 95.82 225.10 96.26 225.40 96.09 225.70 96.15 226.00 95.82 226.30 95.90 226.60 96.17 226.90 96.15 227.20 96.26 227.50 96.15 227.80 96.19 228.10 96.21 228.40 96.15 228.70 95.97 229.00 96.30 229.30 96.12 229.60 96.18 229.90 96.18 230.20 96.32 230.50 96.22 230.80 96.12 231.10 96.35 231.40 96.51 231.70 96.33 232.00 96.62 232.30 96.44 232.60 96.54 232.90 96.78 233.20 96.72 233.50 97.12 233.80 96.52 234.10 96.68 234.40 96.81 234.70 96.69 235.00 96.64 235.30 96.85 235.60 96.80 235.90 96.82 236.20 96.82 236.50 96.98 236.80 96.95 237.10 96.98 237.40 96.93 237.70 96.98 238.00 96.91 238.30 97.16 238.60 97.13 238.90 97.10 239.20 97.22 239.50 97.32 239.80 97.36 240.10 97.30 240.40 97.48 240.70 97.55 241.00 97.21 241.30 97.38 241.60 97.67 241.90 97.66 242.20 97.77 242.50 97.89 242.80 97.64 243.10 97.87 243.40 98.04 243.70 97.79 244.00 98.21 244.30 97.76 244.60 98.04 244.90 98.47 245.20 98.15 245.50 98.26 245.80 98.34 246.10 98.30 246.40 98.50 246.70 98.45 247.00 98.40 247.30 98.90 247.60 98.69 247.90 98.54 248.20 98.42 248.50 98.69 248.80 98.87 249.10 98.65 249.40 98.83 249.70 98.94 250.00 99.01 250.30 99.26 250.60 98.88 250.90 99.01 251.20 99.48 251.50 99.02 251.80 99.30 252.10 99.39 252.40 99.53 252.70 99.32 253.00 99.57 253.30 99.72 253.60 99.57 253.90 99.72 254.20 99.55 254.50 99.84 254.80 99.74 255.10 99.76 255.40 99.84 255.70 99.70 256.00 99.74 256.30 100.03 256.60 100.05 256.90 100.07 257.20 99.93 257.50 100.22 257.80 100.18 258.10 100.08 258.40 100.48 258.70 100.70 259.00 100.45 259.30 100.37 259.60 100.20 259.90 100.72 260.20 100.65 260.50 100.80 260.80 101.01 261.10 100.68 261.40 100.83 261.70 101.08 262.00 100.77 262.30 101.15 262.60 101.08 262.90 101.09 263.20 101.26 263.50 101.43 263.80 101.42 264.10 101.55 264.40 101.69 264.70 101.79 265.00 101.72 265.30 101.88 265.60 101.65 265.90 101.86 266.20 102.00 266.50 102.14 266.80 102.25 267.10 102.23 267.40 102.54 267.70 102.70 268.00 102.85 268.30 102.75 268.60 102.89 268.90 103.02 269.20 103.22 269.50 103.02 269.80 103.27 270.10 102.98 270.40 103.11 270.70 103.16 271.00 103.59 271.30 103.33 271.60 103.42 271.90 103.47 272.20 104.10 272.50 105.09 272.80 104.99 273.10 105.65 273.40 106.62 273.70 105.94 274.00 106.14 274.30 106.46 274.60 106.03 274.90 105.97 275.20 105.87 275.50 105.79 275.80 105.77 276.10 105.57 276.40 105.69 276.70 106.04 277.00 106.29 277.30 106.46 277.60 106.35 277.90 106.14 278.20 106.99 278.50 107.24 278.80 107.67 279.10 106.57 279.40 106.74 279.70 106.81 280.00 106.82 280.30 107.37 280.60 107.18 280.90 107.40 281.20 107.25 281.50 107.25 281.80 107.40 282.10 107.91 282.40 108.71 282.70 108.40 283.00 107.67 283.30 107.34 283.60 107.38 283.90 106.75 284.20 107.02 284.50 107.61 284.80 107.97 285.10 108.26 285.40 107.36 285.70 107.27 286.00 107.59 286.30 107.86 286.60 107.28 286.90 107.61 287.20 107.40 287.50 107.78 287.80 107.48 288.10 107.34 288.40 107.31 288.70 107.52 289.00 107.82 289.30 107.54 289.60 107.69 289.90 107.54 290.20 108.39 290.50 108.61 290.80 108.06 291.10 107.74 291.40 107.67 291.70 107.88 292.00 107.96 292.30 108.08 292.60 108.21 292.90 108.43 293.20 107.88 293.50 108.29 293.80 108.10 294.10 107.99 294.40 108.17 294.70 108.15 295.00 108.19 295.30 108.60 295.60 108.14 295.90 107.89 296.20 108.24 296.50 107.97 296.80 108.01 297.10 108.57 297.40 108.32 297.70 108.48 298.00 108.50 298.30 109.02 298.60 108.89 298.90 108.29 299.20 108.92 299.50 108.56 299.80 108.76 300.10 108.96 300.40 108.67 300.70 108.62 301.00 108.67 301.30 108.70 301.60 109.05 301.90 108.98 302.20 109.26 302.50 109.32 302.80 109.04 303.10 108.71 303.40 108.93 303.70 109.00 304.00 108.63 304.30 108.90 304.60 108.74 304.90 109.29 305.20 108.69 305.50 108.96 305.80 109.08 306.10 109.09 306.40 108.86 306.70 109.23 307.00 109.08 307.30 109.42 307.60 109.15 307.90 109.32 308.20 108.81 308.50 109.22 308.80 109.21 309.10 108.99 309.40 108.75 309.70 109.40 310.00 109.53 310.30 109.15 310.60 109.47 310.90 109.45 311.20 109.20 311.50 109.20 311.80 109.94 312.10 109.51 312.40 109.48 312.70 109.34 313.00 109.12 313.30 109.50 313.60 109.42 313.90 109.54 314.20 109.48 314.50 109.13 314.80 109.43 315.10 109.57 315.40 109.47 315.70 109.62 316.00 109.65 316.30 109.58 316.60 109.53 316.90 109.99 317.20 109.71 317.50 109.74 317.80 109.80 318.10 109.75 318.40 109.31 318.70 109.65 319.00 109.81 319.30 109.88 319.60 109.80" stroke="#28288c" stroke-width="1.1" fill="none" stroke-linejoin="round"/><path d="M170.20 87.46 170.50 87.37 170.80 87.62 171.10 87.21 171.40 87.47 171.70 87.43 172.00 87.33 172.30 87.38 172.60 87.36 172.90 87.44 173.20 87.32 173.50 87.35 173.80 87.75 174.10 87.33 174.40 87.48 174.70 87.55 175.00 87.28 175.30 87.51 175.60 87.31 175.90 87.05 176.20 87.40 176.50 86.98 176.80 87.38 177.10 87.50 177.40 87.65 177.70 87.49 178.00 87.55 178.30 87.49 178.60 87.40 178.90 87.55 179.20 87.35 179.50 87.44 179.80 87.30 180.10 87.36 180.40 87.45 180.70 87.13 181.00 87.31 181.30 87.26 181.60 87.39 181.90 87.67 182.20 87.27 182.50 87.37 182.80 87.35 183.10 87.29 183.40 87.29 183.70 87.53 184.00 87.36 184.30 87.29 184.60 87.23 184.90 87.28 185.20 87.52 185.50 87.27 185.80 87.15 186.10 87.34 186.40 87.60 186.70 87.85 187.00 88.05 187.30 88.36 187.60 88.09 187.90 87.99 188.20 87.83 188.50 87.66 188.80 87.21 189.10 87.41 189.40 87.18 189.70 87.52 190.00 87.43 190.30 87.63 190.60 87.67 190.90 87.46 191.20 87.35 191.50 87.26 191.80 87.36 192.10 87.70 192.40 87.81 192.70 88.02 193.00 87.99 193.30 88.13 193.60 88.25 193.90 87.85 194.20 88.10 194.50 87.71 194.80 88.31 195.10 87.87 195.40 87.60 195.70 87.54 196.00 87.35 196.30 87.64 196.60 87.35 196.90 87.36 197.20 87.29 197.50 87.50 197.80 87.56 198.10 87.52 198.40 87.18 198.70 87.36 199.00 87.46 199.30 87.11 199.60 87.37 199.90 87.52 200.20 87.61 200.50 87.49 200.80 87.56 201.10 87.59 201.40 87.54 201.70 87.24 202.00 87.79 202.30 87.65 202.60 87.56 202.90 87.48 203.20 87.94 203.50 87.69 203.80 87.78 204.10 87.62 204.40 87.73 204.70 87.72 205.00 87.89 205.30 87.50 205.60 88.03 205.90 87.80 206.20 87.93 206.50 87.99 206.80 87.79 207.10 88.00 207.40 87.75 207.70 87.96 208.00 87.84 208.30 88.12 208.60 88.20 208.90 87.84 209.20 88.08 209.50 87.95 209.80 87.88 210.10 88.09 210.40 88.26 210.70 88.30 211.00 88.08 211.30 88.14 211.60 88.41 211.90 88.22 212.20 88.50 212.50 88.53 212.80 88.36 213.10 88.20 213.40 88.28 213.70 88.46 214.00 88.34 214.30 88.40 214.60 88.48 214.90 88.22 215.20 88.39 215.50 88.42 215.80 88.37 216.10 88.55 216.40 88.48 216.70 88.50 217.00 88.78 217.30 88.81 217.60 88.59 217.90 88.57 218.20 88.45 218.50 88.43 218.80 88.92 219.10 88.73 219.40 88.63 219.70 88.58 220.00 88.96 220.30 88.77 220.60 88.92 220.90 88.98 221.20 88.76 221.50 88.70 221.80 88.90 222.10 89.01 222.40 88.92 222.70 88.96 223.00 89.05 223.30 88.89 223.60 89.14 223.90 89.20 224.20 88.93 224.50 88.99 224.80 89.07 225.10 89.06 225.40 89.13 225.70 89.34 226.00 89.01 226.30 89.28 226.60 89.19 226.90 89.17 227.20 89.09 227.50 89.02 227.80 89.34 228.10 89.56 228.40 89.25 228.70 89.50 229.00 89.24 229.30 89.51 229.60 89.42 229.90 89.43 230.20 89.32 230.50 89.50 230.80 89.56 231.10 89.86 231.40 89.82 231.70 89.84 232.00 89.74 232.30 89.91 232.60 90.04 232.90 90.17 233.20 90.16 233.50 90.35 233.80 90.11 234.10 90.06 234.40 90.42 234.70 90.54 235.00 90.47 235.30 90.40 235.60 90.46 235.90 90.45 236.20 90.50 236.50 90.60 236.80 90.70 237.10 90.54 237.40 90.82 237.70 90.82 238.00 90.82 238.30 90.94 238.60 90.90 238.90 91.04 239.20 91.26 239.50 91.05 239.80 91.27 240.10 91.13 240.40 91.23 240.70 91.35 241.00 91.28 241.30 91.56 241.60 91.25 241.90 91.49 242.20 91.57 242.50 91.63 242.80 91.64 243.10 91.58 243.40 91.77 243.70 92.01 244.00 91.96 244.30 91.90 244.60 91.80 244.90 91.90 245.20 92.18 245.50 92.05 245.80 92.13 246.10 92.55 246.40 91.94 246.70 92.46 247.00 92.05 247.30 92.24 247.60 92.86 247.90 92.69 248.20 92.66 248.50 92.75 248.80 92.81 249.10 92.66 249.40 92.60 249.70 92.72 250.00 92.94 250.30 93.04 250.60 93.21 250.90 93.14 251.20 93.34 251.50 93.32 251.80 93.25 252.10 93.43 252.40 93.64 252.70 93.66 253.00 93.69 253.30 93.84 253.60 94.13 253.90 93.92 254.20 93.76 254.50 94.21 254.80 93.96 255.10 94.59 255.40 94.37 255.70 94.55 256.00 94.60 256.30 94.74 256.60 94.85 256.90 95.06 257.20 94.83 257.50 95.01 257.80 95.09 258.10 95.21 258.40 95.42 258.70 95.14 259.00 95.20 259.30 95.60 259.60 95.74 259.90 95.85 260.20 95.99 260.50 96.17 260.80 95.90 261.10 96.07 261.40 96.24 261.70 96.38 262.00 96.45 262.30 96.56 262.60 96.51 262.90 97.12 263.20 96.92 263.50 97.12 263.80 97.06 264.10 97.38 264.40 97.41 264.70 97.76 265.00 97.87 265.30 97.79 265.60 98.02 265.90 98.15 266.20 98.32 266.50 98.61 266.80 98.44 267.10 99.07 267.40 98.70 267.70 98.75 268.00 99.19 268.30 99.04 268.60 99.54 268.90 99.55 269.20 99.58 269.50 99.87 269.80 99.92 270.10 99.84 270.40 100.06 270.70 100.77 271.00 100.39 271.30 100.34 271.60 100.09 271.90 101.19 272.20 101.41 272.50 101.88 272.80 102.73 273.10 103.28 273.40 104.37 273.70 103.94 274.00 103.55 274.30 104.05 274.60 103.96 274.90 103.68 275.20 103.96 275.50 103.11 275.80 103.16 276.10 102.87 276.40 103.07 276.70 103.68 277.00 104.12 277.30 103.58 277.60 103.97 277.90 104.40 278.20 104.37 278.50 105.42 278.80 105.11 279.10 104.72 279.40 104.32 279.70 103.94 280.00 104.91 280.30 105.17 280.60 105.02 280.90 104.79 281.20 104.66 281.50 104.72 281.80 105.01 282.10 106.00 282.40 106.35 282.70 106.41 283.00 105.64 283.30 105.47 283.60 105.02 283.90 104.45 284.20 105.17 284.50 105.41 284.80 105.48 285.10 105.84 285.40 105.31 285.70 105.80 286.00 105.78 286.30 105.71 286.60 105.59 286.90 105.67 287.20 105.54 287.50 105.74 287.80 105.60 288.10 105.42 288.40 105.23 288.70 105.60 289.00 105.99 289.30 106.43 289.60 106.28 289.90 106.64 290.20 106.82 290.50 107.69 290.80 107.25 291.10 106.33 291.40 105.96 291.70 106.22 292.00 106.17 292.30 106.40 292.60 106.90 292.90 107.11 293.20 106.31 293.50 106.90 293.80 106.80 294.10 106.93 294.40 106.68 294.70 107.19 295.00 106.76 295.30 106.83 295.60 106.78 295.90 106.95 296.20 106.77 296.50 107.09 296.80 107.00 297.10 107.01 297.40 107.39 297.70 107.59 298.00 107.32 298.30 108.01 298.60 107.72 298.90 107.59 299.20 107.19 299.50 107.85 299.80 108.04 300.10 107.82 300.40 107.89 300.70 108.17 301.00 108.14 301.30 107.52 301.60 107.73 301.90 108.26 302.20 108.23 302.50 108.22 302.80 107.51 303.10 108.11 303.40 108.08 303.70 107.81 304.00 108.34 304.30 108.18 304.60 108.31 304.90 108.54 305.20 108.11 305.50 108.23 305.80 108.13 306.10 108.41 306.40 108.40 306.70 107.99 307.00 108.08 307.30 108.04 307.60 108.34 307.90 108.06 308.20 108.13 308.50 108.66 308.80 108.20 309.10 108.54 309.40 107.97 309.70 108.63 310.00 108.18 310.30 108.82 310.60 108.59 310.90 108.68 311.20 108.39 311.50 108.70 311.80 108.53 312.10 108.87 312.40 108.59 312.70 108.65 313.00 108.56 313.30 108.69 313.60 108.96 313.90 108.75 314.20 108.91 314.50 108.28 314.80 109.08 315.10 108.61 315.40 108.51 315.70 108.98 316.00 108.56 316.30 109.36 316.60 109.01 316.90 109.02 317.20 109.23 317.50 109.06 317.80 109.14 318.10 109.20 318.40 109.62 318.70 109.36 319.00 109.13 319.30 109.29 319.60 108.90" stroke="#ff00ff" stroke-width="1.1" fill="none" stroke-linejoin="round"/><path d="M170.20 78.34 170.50 78.44 170.80 78.78 171.10 78.52 171.40 78.37 171.70 78.31 172.00 78.23 172.30 78.41 172.60 78.87 172.90 78.46 173.20 78.46 173.50 78.32 173.80 78.42 174.10 78.68 174.40 78.68 174.70 78.47 175.00 78.36 175.30 78.63 175.60 78.91 175.90 79.02 176.20 78.75 176.50 78.51 176.80 78.63 177.10 78.44 177.40 78.36 177.70 78.38 178.00 78.51 178.30 78.62 178.60 78.77 178.90 78.74 179.20 78.59 179.50 78.10 179.80 78.77 180.10 78.59 180.40 78.38 180.70 78.74 181.00 78.35 181.30 78.45 181.60 78.51 181.90 78.50 182.20 78.49 182.50 78.14 182.80 78.25 183.10 78.48 183.40 78.64 183.70 78.50 184.00 78.16 184.30 78.14 184.60 78.16 184.90 78.82 185.20 78.22 185.50 78.73 185.80 78.20 186.10 78.32 186.40 78.58 186.70 79.41 187.00 79.17 187.30 79.58 187.60 79.50 187.90 79.32 188.20 79.43 188.50 78.66 188.80 78.58 189.10 78.20 189.40 78.31 189.70 78.53 190.00 78.93 190.30 79.03 190.60 78.14 190.90 78.44 191.20 77.97 191.50 78.43 191.80 78.59 192.10 78.91 192.40 79.14 192.70 79.04 193.00 79.21 193.30 79.10 193.60 79.79 193.90 78.79 194.20 79.48 194.50 79.45 194.80 79.73 195.10 78.85 195.40 79.16 195.70 78.89 196.00 78.60 196.30 78.67 196.60 78.17 196.90 78.92 197.20 78.18 197.50 78.46 197.80 78.75 198.10 78.60 198.40 78.79 198.70 78.49 199.00 78.30 199.30 78.57 199.60 78.59 199.90 78.20 200.20 78.69 200.50 78.78 200.80 78.43 201.10 78.78 201.40 78.66 201.70 78.85 202.00 78.61 202.30 78.89 202.60 78.89 202.90 78.81 203.20 78.77 203.50 78.83 203.80 79.02 204.10 79.19 204.40 78.93 204.70 79.15 205.00 79.03 205.30 79.40 205.60 79.30 205.90 79.25 206.20 79.22 206.50 79.08 206.80 78.91 207.10 79.39 207.40 79.13 207.70 79.18 208.00 79.52 208.30 79.41 208.60 79.19 208.90 79.64 209.20 79.40 209.50 79.66 209.80 79.31 210.10 79.27 210.40 79.47 210.70 79.75 211.00 79.27 211.30 79.47 211.60 79.88 211.90 80.19 212.20 79.72 212.50 79.62 212.80 79.74 213.10 79.71 213.40 80.17 213.70 80.05 214.00 79.78 214.30 80.13 214.60 79.61 214.90 80.05 215.20 80.07 215.50 80.06 215.80 79.96 216.10 80.05 216.40 79.85 216.70 80.31 217.00 80.08 217.30 80.39 217.60 80.47 217.90 80.22 218.20 80.16 218.50 80.42 218.80 80.57 219.10 80.23 219.40 80.49 219.70 80.35 220.00 80.84 220.30 80.67 220.60 80.33 220.90 80.55 221.20 80.70 221.50 80.63 221.80 80.77 222.10 80.86 222.40 80.85 222.70 80.77 223.00 81.14 223.30 81.07 223.60 80.88 223.90 80.95 224.20 80.88 224.50 80.77 224.80 81.00 225.10 81.10 225.40 81.05 225.70 80.98 226.00 80.62 226.30 80.89 226.60 81.40 226.90 80.94 227.20 81.41 227.50 81.47 227.80 81.35 228.10 81.40 228.40 81.58 228.70 81.46 229.00 81.48 229.30 81.69 229.60 81.55 229.90 81.96 230.20 81.44 230.50 81.65 230.80 81.75 231.10 81.90 231.40 81.83 231.70 82.38 232.00 82.22 232.30 81.83 232.60 82.24 232.90 82.45 233.20 82.62 233.50 82.55 233.80 82.40 234.10 82.77 234.40 82.46 234.70 82.79 235.00 82.63 235.30 83.17 235.60 83.13 235.90 83.47 236.20 83.09 236.50 83.20 236.80 83.21 237.10 83.59 237.40 83.25 237.70 83.65 238.00 83.53 238.30 83.81 238.60 83.79 238.90 83.68 239.20 83.82 239.50 83.65 239.80 83.88 240.10 84.00 240.40 84.35 240.70 84.13 241.00 84.31 241.30 84.26 241.60 84.11 241.90 84.51 242.20 84.80 242.50 84.61 242.80 84.77 243.10 84.70 243.40 84.82 243.70 85.07 244.00 84.43 244.30 84.66 244.60 84.56 244.90 84.89 245.20 84.86 245.50 84.84 245.80 85.11 246.10 85.42 246.40 85.38 246.70 85.50 247.00 85.24 247.30 85.35 247.60 85.58 247.90 85.55 248.20 85.59 248.50 85.40 248.80 85.43 249.10 85.44 249.40 85.84 249.70 85.49 250.00 85.74 250.30 85.85 250.60 85.87 250.90 85.93 251.20 86.16 251.50 86.04 251.80 86.30 252.10 86.61 252.40 86.36 252.70 86.77 253.00 86.88 253.30 87.08 253.60 86.68 253.90 87.25 254.20 87.22 254.50 87.40 254.80 87.40 255.10 87.29 255.40 87.59 255.70 87.54 256.00 87.52 256.30 87.59 256.60 87.71 256.90 87.86 257.20 87.69 257.50 88.14 257.80 87.92 258.10 88.38 258.40 88.62 258.70 88.68 259.00 88.85 259.30 88.94 259.60 89.18 259.90 88.82 260.20 88.78 260.50 89.00 260.80 88.94 261.10 89.47 261.40 88.88 261.70 89.41 262.00 89.68 262.30 89.79 262.60 90.01 262.90 89.83 263.20 90.11 263.50 90.34 263.80 90.63 264.10 90.82 264.40 91.16 264.70 90.83 265.00 91.29 265.30 91.81 265.60 91.82 265.90 91.79 266.20 92.12 266.50 92.15 266.80 92.67 267.10 92.55 267.40 93.03 267.70 93.15 268.00 93.20 268.30 93.61 268.60 93.79 268.90 93.91 269.20 94.29 269.50 94.33 269.80 94.93 270.10 95.12 270.40 95.52 270.70 95.63 271.00 95.63 271.30 95.02 271.60 95.52 271.90 96.13 272.20 96.75 272.50 97.80 272.80 98.74 273.10 99.61 273.40 100.31 273.70 100.08 274.00 99.98 274.30 101.32 274.60 101.05 274.90 100.56 275.20 100.37 275.50 99.70 275.80 100.03 276.10 98.99 276.40 99.59 276.70 100.42 277.00 101.32 277.30 101.18 277.60 101.46 277.90 101.86 278.20 101.66 278.50 102.37 278.80 102.08 279.10 101.69 279.40 100.98 279.70 101.31 280.00 101.87 280.30 102.85 280.60 102.51 280.90 102.60 281.20 102.60 281.50 102.48 281.80 102.77 282.10 103.18 282.40 104.56 282.70 104.09 283.00 103.59 283.30 102.71 283.60 102.59 283.90 101.70 284.20 102.14 284.50 102.43 284.80 103.34 285.10 103.22 285.40 102.81 285.70 102.73 286.00 102.57 286.30 103.51 286.60 103.05 286.90 103.69 287.20 103.40 287.50 103.38 287.80 103.34 288.10 103.77 288.40 103.50 288.70 103.19 289.00 104.52 289.30 104.43 289.60 103.20 289.90 103.54 290.20 105.24 290.50 105.42 290.80 104.68 291.10 103.72 291.40 103.64 291.70 104.54 292.00 103.50 292.30 104.67 292.60 105.79 292.90 105.16 293.20 104.61 293.50 105.16 293.80 105.11 294.10 104.95 294.40 105.01 294.70 104.75 295.00 105.37 295.30 105.50 295.60 105.32 295.90 105.25 296.20 105.07 296.50 105.22 296.80 106.18 297.10 105.12 297.40 105.49 297.70 105.08 298.00 105.02 298.30 105.93 298.60 106.51 298.90 105.56 299.20 105.65 299.50 105.82 299.80 105.80 300.10 105.75 300.40 106.10 300.70 105.95 301.00 106.11 301.30 105.92 301.60 106.74 301.90 107.19 302.20 106.32 302.50 106.02 302.80 106.87 303.10 106.96 303.40 107.19 303.70 106.27 304.00 106.54 304.30 105.99 304.60 106.84 304.90 106.39 305.20 106.31 305.50 107.09 305.80 106.99 306.10 106.40 306.40 106.74 306.70 107.57 307.00 106.43 307.30 106.94 307.60 107.58 307.90 107.57 308.20 107.22 308.50 107.04 308.80 107.36 309.10 107.15 309.40 107.43 309.70 107.64 310.00 107.45 310.30 107.75 310.60 107.82 310.90 107.35 311.20 107.53 311.50 107.39 311.80 107.77 312.10 107.29 312.40 107.51 312.70 107.26 313.00 107.95 313.30 107.66 313.60 108.23 313.90 108.15 314.20 108.12 314.50 107.85 314.80 107.70 315.10 107.86 315.40 108.17 315.70 108.19 316.00 108.21 316.30 108.29 316.60 108.68 316.90 108.66 317.20 108.12 317.50 108.62 317.80 108.28 318.10 108.60 318.40 108.63 318.70 108.85 319.00 108.85 319.30 108.42 319.60 108.72" stroke="#8c8c14" stroke-width="1.1" fill="none" stroke-linejoin="round"/><path d="M170.20 69.54 170.50 69.11 170.80 69.06 171.10 69.53 171.40 69.34 171.70 69.49 172.00 68.97 172.30 69.39 172.60 69.19 172.90 69.57 173.20 69.80 173.50 69.30 173.80 69.60 174.10 69.19 174.40 69.33 174.70 69.48 175.00 69.25 175.30 69.69 175.60 69.48 175.90 69.10 176.20 69.09 176.50 69.26 176.80 68.91 177.10 69.66 177.40 69.31 177.70 69.26 178.00 69.40 178.30 69.31 178.60 69.69 178.90 69.71 179.20 69.57 179.50 69.53 179.80 69.62 180.10 69.50 180.40 69.38 180.70 69.64 181.00 69.46 181.30 69.54 181.60 69.75 181.90 69.85 182.20 69.41 182.50 69.65 182.80 69.08 183.10 69.23 183.40 69.49 183.70 69.25 184.00 69.02 184.30 69.10 184.60 69.56 184.90 68.89 185.20 69.61 185.50 69.78 185.80 68.73 186.10 69.69 186.40 70.00 186.70 69.63 187.00 70.67 187.30 70.68 187.60 71.08 187.90 70.91 188.20 70.38 188.50 68.87 188.80 69.83 189.10 70.09 189.40 69.01 189.70 70.34 190.00 69.25 190.30 68.90 190.60 68.93 190.90 69.92 191.20 69.61 191.50 69.18 191.80 69.30 192.10 68.85 192.40 69.63 192.70 69.92 193.00 70.80 193.30 70.60 193.60 70.76 193.90 70.30 194.20 70.23 194.50 70.71 194.80 71.13 195.10 70.29 195.40 70.13 195.70 69.55 196.00 69.22 196.30 69.10 196.60 69.22 196.90 68.93 197.20 69.31 197.50 69.25 197.80 69.51 198.10 69.61 198.40 69.84 198.70 69.29 199.00 69.37 199.30 69.52 199.60 69.26 199.90 69.64 200.20 69.60 200.50 69.50 200.80 69.84 201.10 69.48 201.40 69.64 201.70 69.66 202.00 69.78 202.30 69.58 202.60 69.93 202.90 70.23 203.20 70.20 203.50 70.37 203.80 70.32 204.10 70.47 204.40 70.12 204.70 70.32 205.00 70.08 205.30 71.07 205.60 71.06 205.90 70.64 206.20 70.62 206.50 70.90 206.80 70.65 207.10 71.20 207.40 71.50 207.70 70.67 208.00 70.95 208.30 71.43 208.60 71.54 208.90 71.46 209.20 71.42 209.50 71.40 209.80 71.52 210.10 71.42 210.40 71.53 210.70 71.57 211.00 72.09 211.30 71.37 211.60 72.09 211.90 71.60 212.20 71.68 212.50 71.59 212.80 71.93 213.10 72.29 213.40 72.16 213.70 72.32 214.00 72.17 214.30 72.48 214.60 72.16 214.90 72.63 215.20 72.54 215.50 72.44 215.80 73.04 216.10 73.19 216.40 72.78 216.70 73.27 217.00 73.11 217.30 73.33 217.60 73.33 217.90 73.26 218.20 73.17 218.50 73.66 218.80 73.25 219.10 73.47 219.40 73.69 219.70 73.18 220.00 73.81 220.30 73.63 220.60 73.74 220.90 73.97 221.20 73.94 221.50 74.03 221.80 73.91 222.10 73.93 222.40 74.11 222.70 74.15 223.00 74.10 223.30 74.66 223.60 74.81 223.90 74.15 224.20 74.48 224.50 74.83 224.80 74.16 225.10 74.97 225.40 74.84 225.70 75.04 226.00 75.17 226.30 75.30 226.60 74.78 226.90 75.28 227.20 75.24 227.50 75.41 227.80 75.01 228.10 75.19 228.40 75.62 228.70 75.77 229.00 75.96 229.30 75.28 229.60 76.01 229.90 75.71 230.20 75.77 230.50 75.81 230.80 76.08 231.10 76.23 231.40 75.85 231.70 76.23 232.00 76.18 232.30 76.02 232.60 76.44 232.90 76.09 233.20 76.24 233.50 76.38 233.80 76.47 234.10 76.31 234.40 76.45 234.70 76.86 235.00 76.68 235.30 76.77 235.60 76.75 235.90 77.01 236.20 77.13 236.50 76.88 236.80 77.14 237.10 76.83 237.40 77.06 237.70 76.85 238.00 77.04 238.30 77.91 238.60 77.07 238.90 77.60 239.20 77.43 239.50 77.48 239.80 77.00 240.10 77.58 240.40 77.27 240.70 77.53 241.00 77.58 241.30 77.74 241.60 78.31 241.90 78.36 242.20 77.66 242.50 78.04 242.80 78.02 243.10 78.31 243.40 77.97 243.70 78.09 244.00 78.48 244.30 78.40 244.60 78.89 244.90 78.66 245.20 78.85 245.50 78.77 245.80 79.13 246.10 79.29 246.40 79.08 246.70 79.06 247.00 79.38 247.30 79.35 247.60 79.61 247.90 79.49 248.20 79.57 248.50 79.80 248.80 79.51 249.10 79.49 249.40 79.95 249.70 79.88 250.00 80.13 250.30 80.25 250.60 80.21 250.90 80.07 251.20 80.62 251.50 79.82 251.80 80.23 252.10 80.19 252.40 80.98 252.70 80.53 253.00 80.63 253.30 80.88 253.60 81.09 253.90 81.10 254.20 80.93 254.50 81.05 254.80 80.84 255.10 81.21 255.40 81.15 255.70 80.79 256.00 81.40 256.30 81.39 256.60 81.66 256.90 81.69 257.20 81.64 257.50 81.65 257.80 82.12 258.10 81.87 258.40 82.12 258.70 82.05 259.00 82.33 259.30 82.31 259.60 81.91 259.90 82.35 260.20 82.65 260.50 82.67 260.80 82.36 261.10 82.87 261.40 82.77 261.70 82.78 262.00 82.55 262.30 83.07 262.60 83.35 262.90 83.05 263.20 83.67 263.50 83.71 263.80 83.91 264.10 84.64 264.40 85.06 264.70 85.13 265.00 85.06 265.30 85.38 265.60 86.14 265.90 86.17 266.20 86.54 266.50 86.68 266.80 87.04 267.10 87.12 267.40 87.38 267.70 87.48 268.00 88.07 268.30 88.31 268.60 88.85 268.90 89.38 269.20 89.16 269.50 88.75 269.80 89.37 270.10 90.44 270.40 90.37 270.70 90.36 271.00 90.19 271.30 90.97 271.60 91.39 271.90 92.62 272.20 93.39 272.50 94.00 272.80 94.97 273.10 95.42 273.40 97.33 273.70 95.89 274.00 95.90 274.30 96.46 274.60 96.09 274.90 95.42 275.20 95.90 275.50 94.83 275.80 95.27 276.10 94.46 276.40 93.92 276.70 95.17 277.00 96.53 277.30 96.31 277.60 96.25 277.90 96.77 278.20 97.70 278.50 98.26 278.80 97.84 279.10 97.59 279.40 96.80 279.70 96.46 280.00 97.16 280.30 97.91 280.60 99.73 280.90 98.64 281.20 99.22 281.50 98.51 281.80 98.78 282.10 100.16 282.40 101.63 282.70 100.49 283.00 99.82 283.30 99.70 283.60 99.68 283.90 98.14 284.20 98.60 284.50 99.27 284.80 100.51 285.10 100.27 285.40 99.21 285.70 99.86 286.00 99.65 286.30 100.12 286.60 101.26 286.90 99.28 287.20 99.95 287.50 99.76 287.80 101.02 288.10 100.15 288.40 100.74 288.70 101.26 289.00 101.78 289.30 102.01 289.60 101.47 289.90 101.58 290.20 102.40 290.50 103.46 290.80 102.76 291.10 101.75 291.40 101.59 291.70 102.73 292.00 101.60 292.30 102.23 292.60 102.86 292.90 103.20 293.20 103.28 293.50 102.80 293.80 103.11 294.10 103.10 294.40 103.88 294.70 103.22 295.00 103.12 295.30 103.77 295.60 103.39 295.90 103.06 296.20 103.11 296.50 103.68 296.80 102.67 297.10 103.51 297.40 104.41 297.70 103.95 298.00 103.69 298.30 104.16 298.60 104.98 298.90 104.53 299.20 104.13 299.50 104.30 299.80 104.34 300.10 104.28 300.40 104.82 300.70 104.92 301.00 104.62 301.30 105.17 301.60 104.72 301.90 105.34 302.20 104.51 302.50 105.59 302.80 105.96 303.10 105.60 303.40 105.29 303.70 105.53 304.00 105.38 304.30 105.47 304.60 105.51 304.90 105.86 305.20 105.62 305.50 105.70 305.80 105.53 306.10 106.01 306.40 106.24 306.70 106.13 307.00 106.09 307.30 106.43 307.60 105.81 307.90 106.75 308.20 105.57 308.50 106.44 308.80 106.32 309.10 106.45 309.40 105.92 309.70 106.79 310.00 106.57 310.30 106.58 310.60 106.92 310.90 106.70 311.20 106.74 311.50 107.03 311.80 106.80 312.10 106.98 312.40 106.81 312.70 106.81 313.00 107.04 313.30 106.91 313.60 107.22 313.90 107.12 314.20 107.09 314.50 107.28 314.80 106.99 315.10 107.63 315.40 107.65 315.70 106.82 316.00 107.59 316.30 107.50 316.60 107.86 316.90 108.37 317.20 107.66 317.50 107.82 317.80 107.65 318.10 108.06 318.40 108.23 318.70 108.15 319.00 108.16 319.30 107.86 319.60 108.21" stroke="#0000ff" stroke-width="1.1" fill="none" stroke-linejoin="round"/><path d="M170.20 60.03 170.50 59.85 170.80 59.18 171.10 59.77 171.40 60.00 171.70 59.68 172.00 59.37 172.30 59.87 172.60 59.41 172.90 59.86 173.20 59.83 173.50 59.65 173.80 59.42 174.10 59.43 174.40 59.87 174.70 59.93 175.00 59.42 175.30 58.62 175.60 58.89 175.90 58.81 176.20 59.59 176.50 58.72 176.80 59.46 177.10 59.11 177.40 58.94 177.70 59.36 178.00 58.85 178.30 59.25 178.60 59.25 178.90 58.72 179.20 58.90 179.50 59.24 179.80 58.27 180.10 59.18 180.40 58.84 180.70 59.13 181.00 58.81 181.30 58.79 181.60 58.31 181.90 58.51 182.20 58.68 182.50 58.88 182.80 58.56 183.10 58.97 183.40 58.99 183.70 59.02 184.00 59.16 184.30 59.18 184.60 58.59 184.90 59.11 185.20 58.91 185.50 59.11 185.80 58.12 186.10 58.81 186.40 58.85 186.70 59.35 187.00 60.05 187.30 60.38 187.60 60.57 187.90 59.90 188.20 59.30 188.50 59.24 188.80 58.74 189.10 59.05 189.40 58.94 189.70 59.22 190.00 58.46 190.30 58.87 190.60 58.84 190.90 58.87 191.20 58.37 191.50 59.65 191.80 59.06 192.10 59.82 192.40 59.29 192.70 60.19 193.00 60.89 193.30 60.45 193.60 60.19 193.90 59.65 194.20 60.81 194.50 60.61 194.80 60.22 195.10 60.22 195.40 59.36 195.70 59.62 196.00 59.03 196.30 58.73 196.60 59.09 196.90 60.03 197.20 58.88 197.50 58.64 197.80 58.68 198.10 59.12 198.40 58.72 198.70 58.55 199.00 59.21 199.30 58.48 199.60 58.44 199.90 58.85 200.20 58.91 200.50 58.51 200.80 58.54 201.10 59.16 201.40 58.97 201.70 58.58 202.00 59.63 202.30 59.69 202.60 59.81 202.90 59.39 203.20 59.14 203.50 59.31 203.80 59.88 204.10 59.49 204.40 59.20 204.70 59.92 205.00 59.99 205.30 59.50 205.60 59.60 205.90 60.09 206.20 59.49 206.50 60.09 206.80 59.95 207.10 60.34 207.40 59.86 207.70 60.08 208.00 60.00 208.30 60.72 208.60 60.51 208.90 60.10 209.20 60.25 209.50 60.53 209.80 60.46 210.10 60.72 210.40 60.28 210.70 60.50 211.00 61.26 211.30 61.10 211.60 60.57 211.90 61.35 212.20 61.29 212.50 60.36 212.80 61.10 213.10 61.35 213.40 61.15 213.70 61.14 214.00 61.56 214.30 61.37 214.60 60.67 214.90 61.37 215.20 61.46 215.50 61.11 215.80 61.85 216.10 61.55 216.40 61.18 216.70 61.61 217.00 61.50 217.30 61.92 217.60 61.59 217.90 61.71 218.20 62.30 218.50 61.82 218.80 61.87 219.10 62.03 219.40 61.90 219.70 62.35 220.00 61.86 220.30 62.14 220.60 62.88 220.90 61.93 221.20 62.20 221.50 62.60 221.80 61.98 222.10 62.06 222.40 62.61 222.70 63.16 223.00 63.02 223.30 62.87 223.60 62.78 223.90 63.89 224.20 63.41 224.50 63.02 224.80 63.86 225.10 63.86 225.40 63.36 225.70 63.14 226.00 64.29 226.30 63.74 226.60 63.71 226.90 64.00 227.20 63.92 227.50 64.40 227.80 63.97 228.10 64.22 228.40 64.46 228.70 64.74 229.00 64.24 229.30 64.37 229.60 65.00 229.90 64.66 230.20 65.07 230.50 64.99 230.80 65.10 231.10 64.94 231.40 65.29 231.70 65.41 232.00 65.38 232.30 66.20 232.60 65.46 232.90 65.73 233.20 66.18 233.50 66.52 233.80 66.12 234.10 66.39 234.40 66.38 234.70 66.44 235.00 67.22 235.30 66.97 235.60 66.99 235.90 67.31 236.20 67.63 236.50 67.89 236.80 67.73 237.10 67.83 237.40 68.05 237.70 68.31 238.00 68.31 238.30 67.92 238.60 68.43 238.90 68.43 239.20 69.14 239.50 68.82 239.80 68.72 240.10 69.43 240.40 69.03 240.70 69.37 241.00 69.32 241.30 69.56 241.60 69.83 241.90 69.42 242.20 69.55 242.50 70.08 242.80 69.85 243.10 70.09 243.40 70.41 243.70 69.98 244.00 70.61 244.30 70.34 244.60 70.36 244.90 70.47 245.20 71.34 245.50 70.99 245.80 71.06 246.10 70.82 246.40 71.53 246.70 70.90 247.00 71.18 247.30 71.77 247.60 71.83 247.90 71.52 248.20 71.91 248.50 71.74 248.80 71.56 249.10 72.29 249.40 72.15 249.70 72.44 250.00 72.53 250.30 72.16 250.60 72.54 250.90 72.37 251.20 72.78 251.50 72.99 251.80 73.13 252.10 73.62 252.40 72.93 252.70 73.46 253.00 73.46 253.30 73.52 253.60 73.16 253.90 73.66 254.20 73.69 254.50 73.71 254.80 73.86 255.10 73.60 255.40 73.93 255.70 74.19 256.00 74.06 256.30 74.39 256.60 74.69 256.90 74.46 257.20 74.37 257.50 74.69 257.80 74.61 258.10 74.61 258.40 74.75 258.70 75.44 259.00 75.21 259.30 75.31 259.60 75.44 259.90 74.83 260.20 75.50 260.50 75.67 260.80 75.49 261.10 75.36 261.40 75.91 261.70 75.76 262.00 76.22 262.30 76.11 262.60 76.56 262.90 77.13 263.20 77.43 263.50 77.76 263.80 77.70 264.10 78.66 264.40 78.13 264.70 78.53 265.00 78.98 265.30 79.67 265.60 79.72 265.90 80.45 266.20 80.44 266.50 80.74 266.80 80.58 267.10 81.04 267.40 81.44 267.70 81.42 268.00 81.80 268.30 81.99 268.60 82.50 268.90 83.16 269.20 83.35 269.50 83.59 269.80 83.95 270.10 83.74 270.40 84.27 270.70 84.48 271.00 84.38 271.30 84.89 271.60 85.25 271.90 86.81 272.20 88.02 272.50 88.42 272.80 89.69 273.10 91.39 273.40 92.40 273.70 91.04 274.00 90.28 274.30 92.51 274.60 91.73 274.90 89.51 275.20 90.15 275.50 89.21 275.80 89.09 276.10 88.96 276.40 88.84 276.70 89.51 277.00 90.45 277.30 91.18 277.60 90.93 277.90 91.40 278.20 92.28 278.50 94.12 278.80 92.31 279.10 91.97 279.40 90.78 279.70 90.75 280.00 92.17 280.30 92.64 280.60 93.34 280.90 93.17 281.20 93.86 281.50 93.77 281.80 94.52 282.10 96.77 282.40 98.35 282.70 97.95 283.00 96.01 283.30 96.18 283.60 95.20 283.90 94.94 284.20 93.43 284.50 94.42 284.80 95.88 285.10 96.64 285.40 94.98 285.70 94.52 286.00 96.37 286.30 96.14 286.60 96.23 286.90 95.48 287.20 96.93 287.50 96.54 287.80 96.46 288.10 96.62 288.40 96.91 288.70 97.73 289.00 98.60 289.30 98.35 289.60 98.81 289.90 97.88 290.20 100.14 290.50 100.72 290.80 99.07 291.10 99.33 291.40 98.55 291.70 98.16 292.00 99.88 292.30 99.98 292.60 99.15 292.90 100.92 293.20 99.81 293.50 99.53 293.80 100.56 294.10 99.52 294.40 100.41 294.70 100.94 295.00 100.71 295.30 100.52 295.60 99.82 295.90 100.78 296.20 101.42 296.50 101.38 296.80 101.77 297.10 101.62 297.40 101.75 297.70 101.39 298.00 100.76 298.30 102.17 298.60 102.39 298.90 102.10 299.20 102.56 299.50 103.06 299.80 102.99 300.10 103.71 300.40 103.31 300.70 103.69 301.00 103.96 301.30 104.17 301.60 103.57 301.90 103.69 302.20 104.21 302.50 104.70 302.80 102.94 303.10 104.50 303.40 103.91 303.70 104.54 304.00 104.44 304.30 104.12 304.60 104.01 304.90 104.42 305.20 104.94 305.50 104.08 305.80 104.69 306.10 104.52 306.40 104.56 306.70 104.44 307.00 104.32 307.30 105.16 307.60 105.17 307.90 104.98 308.20 105.12 308.50 105.62 308.80 105.37 309.10 105.53 309.40 105.42 309.70 105.78 310.00 105.48 310.30 105.28 310.60 105.99 310.90 106.02 311.20 105.52 311.50 106.00 311.80 106.07 312.10 106.19 312.40 107.30 312.70 106.28 313.00 106.26 313.30 106.17 313.60 106.18 313.90 105.43 314.20 106.36 314.50 106.52 314.80 106.26 315.10 106.75 315.40 106.96 315.70 107.29 316.00 107.76 316.30 107.03 316.60 106.73 316.90 106.70 317.20 107.69 317.50 107.03 317.80 107.31 318.10 107.67 318.40 107.51 318.70 107.58 319.00 107.69 319.30 106.93 319.60 107.64" stroke="#00e600" stroke-width="1.1" fill="none" stroke-linejoin="round"/><path d="M170.20 48.59 170.50 49.21 170.80 48.54 171.10 48.74 171.40 48.95 171.70 48.89 172.00 48.88 172.30 48.87 172.60 48.58 172.90 48.63 173.20 48.63 173.50 47.83 173.80 48.20 174.10 48.15 174.40 48.04 174.70 48.21 175.00 47.62 175.30 47.41 175.60 47.62 175.90 47.92 176.20 47.40 176.50 46.86 176.80 47.98 177.10 47.92 177.40 47.65 177.70 47.31 178.00 47.24 178.30 46.91 178.60 46.99 178.90 47.60 179.20 47.20 179.50 47.74 179.80 47.29 180.10 46.62 180.40 47.42 180.70 47.89 181.00 47.48 181.30 47.15 181.60 47.16 181.90 47.59 182.20 47.14 182.50 46.99 182.80 47.47 183.10 47.44 183.40 47.19 183.70 47.10 184.00 47.66 184.30 46.48 184.60 47.10 184.90 47.18 185.20 48.44 185.50 46.95 185.80 47.90 186.10 47.58 186.40 48.61 186.70 49.26 187.00 48.97 187.30 49.71 187.60 49.19 187.90 49.12 188.20 49.13 188.50 47.50 188.80 47.41 189.10 47.67 189.40 47.42 189.70 47.37 190.00 46.45 190.30 47.40 190.60 47.53 190.90 47.56 191.20 47.65 191.50 48.08 191.80 48.88 192.10 47.40 192.40 48.02 192.70 49.44 193.00 48.41 193.30 48.95 193.60 48.67 193.90 48.27 194.20 48.34 194.50 48.59 194.80 48.96 195.10 49.38 195.40 49.46 195.70 47.29 196.00 48.12 196.30 48.03 196.60 47.92 196.90 48.63 197.20 47.93 197.50 48.41 197.80 47.32 198.10 47.31 198.40 48.21 198.70 47.85 199.00 47.33 199.30 47.75 199.60 48.06 199.90 47.51 200.20 47.92 200.50 47.35 200.80 48.00 201.10 47.93 201.40 47.84 201.70 47.87 202.00 47.98 202.30 48.54 202.60 48.58 202.90 47.54 203.20 47.94 203.50 48.30 203.80 48.44 204.10 48.14 204.40 48.85 204.70 49.51 205.00 48.32 205.30 48.41 205.60 48.88 205.90 49.28 206.20 49.25 206.50 49.07 206.80 49.28 207.10 49.19 207.40 49.23 207.70 49.22 208.00 49.20 208.30 49.57 208.60 49.46 208.90 49.68 209.20 49.49 209.50 50.23 209.80 49.82 210.10 49.85 210.40 50.45 210.70 50.02 211.00 50.15 211.30 50.21 211.60 49.67 211.90 50.61 212.20 49.92 212.50 50.84 212.80 50.74 213.10 50.48 213.40 50.28 213.70 50.96 214.00 50.69 214.30 51.40 214.60 50.83 214.90 51.08 215.20 51.10 215.50 50.81 215.80 50.74 216.10 51.58 216.40 51.54 216.70 51.45 217.00 51.35 217.30 51.88 217.60 51.40 217.90 52.08 218.20 51.97 218.50 51.60 218.80 51.83 219.10 51.99 219.40 51.98 219.70 52.32 220.00 51.99 220.30 52.13 220.60 52.17 220.90 52.38 221.20 52.96 221.50 53.10 221.80 52.24 222.10 53.26 222.40 52.85 222.70 53.38 223.00 53.65 223.30 54.18 223.60 53.69 223.90 54.04 224.20 53.75 224.50 53.41 224.80 53.69 225.10 54.62 225.40 54.11 225.70 54.51 226.00 55.10 226.30 55.14 226.60 54.79 226.90 54.95 227.20 54.83 227.50 55.87 227.80 55.12 228.10 55.62 228.40 55.76 228.70 55.84 229.00 56.35 229.30 55.58 229.60 55.91 229.90 56.43 230.20 56.41 230.50 56.90 230.80 56.17 231.10 57.12 231.40 56.60 231.70 56.95 232.00 57.82 232.30 57.46 232.60 56.90 232.90 57.77 233.20 57.45 233.50 58.10 233.80 58.06 234.10 58.02 234.40 57.85 234.70 58.19 235.00 57.51 235.30 58.46 235.60 58.99 235.90 58.47 236.20 58.41 236.50 58.94 236.80 59.24 237.10 59.10 237.40 58.61 237.70 59.18 238.00 59.48 238.30 59.76 238.60 59.12 238.90 59.83 239.20 60.34 239.50 60.57 239.80 59.70 240.10 59.85 240.40 60.30 240.70 60.28 241.00 60.46 241.30 60.77 241.60 61.01 241.90 60.82 242.20 60.73 242.50 60.83 242.80 61.13 243.10 61.19 243.40 61.47 243.70 62.72 244.00 62.04 244.30 61.72 244.60 62.06 244.90 61.66 245.20 61.73 245.50 62.54 245.80 62.79 246.10 62.29 246.40 62.97 246.70 62.83 247.00 62.87 247.30 63.65 247.60 63.05 247.90 62.76 248.20 63.35 248.50 63.39 248.80 64.13 249.10 62.92 249.40 64.14 249.70 63.95 250.00 63.38 250.30 64.38 250.60 64.20 250.90 64.61 251.20 64.57 251.50 64.71 251.80 64.91 252.10 65.32 252.40 65.18 252.70 65.43 253.00 65.03 253.30 66.14 253.60 65.32 253.90 66.11 254.20 66.00 254.50 65.81 254.80 66.18 255.10 66.46 255.40 66.27 255.70 66.02 256.00 66.41 256.30 67.22 256.60 66.72 256.90 66.70 257.20 67.35 257.50 67.72 257.80 68.12 258.10 67.75 258.40 67.63 258.70 68.02 259.00 67.96 259.30 67.59 259.60 68.75 259.90 68.82 260.20 68.05 260.50 69.12 260.80 68.85 261.10 68.69 261.40 68.47 261.70 69.18 262.00 69.19 262.30 69.82 262.60 70.19 262.90 70.48 263.20 70.09 263.50 70.41 263.80 71.25 264.10 71.10 264.40 71.20 264.70 71.51 265.00 72.13 265.30 72.45 265.60 72.71 265.90 72.83 266.20 73.28 266.50 73.77 266.80 74.24 267.10 74.77 267.40 74.66 267.70 75.04 268.00 75.49 268.30 76.01 268.60 76.07 268.90 77.19 269.20 76.68 269.50 77.49 269.80 77.62 270.10 77.87 270.40 78.61 270.70 79.94 271.00 78.59 271.30 78.92 271.60 79.60 271.90 80.84 272.20 83.35 272.50 82.30 272.80 84.83 273.10 86.59 273.40 88.10 273.70 87.37 274.00 86.46 274.30 86.65 274.60 86.49 274.90 85.71 275.20 84.40 275.50 83.81 275.80 83.98 276.10 83.37 276.40 85.10 276.70 85.07 277.00 86.14 277.30 85.09 277.60 86.16 277.90 87.03 278.20 86.81 278.50 88.20 278.80 87.38 279.10 86.38 279.40 84.12 279.70 84.57 280.00 86.19 280.30 87.44 280.60 88.39 280.90 88.04 281.20 88.74 281.50 90.50 281.80 89.11 282.10 91.99 282.40 94.27 282.70 93.38 283.00 93.02 283.30 91.81 283.60 90.42 283.90 88.81 284.20 91.05 284.50 91.36 284.80 91.89 285.10 92.01 285.40 91.51 285.70 92.29 286.00 91.92 286.30 92.56 286.60 93.09 286.90 91.81 287.20 93.72 287.50 93.66 287.80 94.59 288.10 94.20 288.40 94.43 288.70 94.90 289.00 95.01 289.30 96.20 289.60 95.71 289.90 96.49 290.20 97.61 290.50 97.72 290.80 97.57 291.10 96.79 291.40 96.89 291.70 96.00 292.00 95.60 292.30 96.85 292.60 97.96 292.90 99.29 293.20 98.46 293.50 97.46 293.80 98.70 294.10 99.11 294.40 98.93 294.70 98.32 295.00 99.88 295.30 99.51 295.60 98.44 295.90 100.16 296.20 98.91 296.50 97.49 296.80 99.16 297.10 99.38 297.40 100.03 297.70 100.08 298.00 99.59 298.30 101.00 298.60 101.47 298.90 100.65 299.20 100.63 299.50 100.39 299.80 101.44 300.10 101.19 300.40 101.31 300.70 101.20 301.00 100.54 301.30 102.12 301.60 101.55 301.90 102.12 302.20 101.90 302.50 102.41 302.80 102.16 303.10 103.51 303.40 101.48 303.70 101.90 304.00 102.72 304.30 102.07 304.60 102.83 304.90 104.75 305.20 103.53 305.50 103.38 305.80 103.73 306.10 103.74 306.40 103.78 306.70 103.72 307.00 103.67 307.30 104.46 307.60 104.38 307.90 104.11 308.20 104.27 308.50 103.81 308.80 104.04 309.10 103.79 309.40 104.49 309.70 105.43 310.00 105.35 310.30 104.85 310.60 104.82 310.90 105.40 311.20 105.47 311.50 104.81 311.80 105.25 312.10 105.66 312.40 105.72 312.70 105.87 313.00 106.01 313.30 105.79 313.60 105.50 313.90 105.10 314.20 105.52 314.50 106.36 314.80 106.73 315.10 106.49 315.40 105.98 315.70 105.46 316.00 106.72 316.30 105.93 316.60 106.38 316.90 107.26 317.20 106.32 317.50 106.50 317.80 107.04 318.10 106.58 318.40 107.32 318.70 107.79 319.00 106.95 319.30 107.84 319.60 106.77" stroke="#ff0000" stroke-width="1.1" fill="none" stroke-linejoin="round"/><path d="M170.20 36.64 170.50 37.23 170.80 36.59 171.10 36.04 171.40 36.64 171.70 36.82 172.00 36.54 172.30 36.47 172.60 36.15 172.90 36.35 173.20 35.79 173.50 36.38 173.80 36.73 174.10 36.28 174.40 36.68 174.70 36.40 175.00 36.12 175.30 35.53 175.60 36.42 175.90 36.10 176.20 35.19 176.50 36.56 176.80 36.36 177.10 36.40 177.40 36.42 177.70 35.72 178.00 35.81 178.30 35.49 178.60 36.23 178.90 35.75 179.20 36.70 179.50 35.62 179.80 36.26 180.10 36.55 180.40 36.10 180.70 35.93 181.00 35.63 181.30 36.61 181.60 36.56 181.90 36.85 182.20 36.05 182.50 36.93 182.80 36.52 183.10 36.64 183.40 36.54 183.70 36.19 184.00 36.30 184.30 37.16 184.60 36.35 184.90 36.62 185.20 36.65 185.50 36.89 185.80 37.53 186.10 36.44 186.40 37.52 186.70 37.60 187.00 38.67 187.30 38.88 187.60 38.42 187.90 38.75 188.20 37.37 188.50 38.55 188.80 36.28 189.10 36.57 189.40 36.99 189.70 36.52 190.00 37.62 190.30 36.65 190.60 35.77 190.90 37.38 191.20 36.48 191.50 38.65 191.80 36.25 192.10 36.82 192.40 37.75 192.70 37.71 193.00 39.36 193.30 39.77 193.60 39.49 193.90 38.33 194.20 38.03 194.50 39.34 194.80 39.45 195.10 38.20 195.40 37.35 195.70 36.55 196.00 36.82 196.30 36.48 196.60 36.95 196.90 37.11 197.20 35.67 197.50 36.68 197.80 36.62 198.10 36.20 198.40 36.40 198.70 36.89 199.00 36.32 199.30 36.28 199.60 36.15 199.90 36.40 200.20 36.06 200.50 36.45 200.80 35.74 201.10 35.95 201.40 36.45 201.70 36.90 202.00 36.21 202.30 36.52 202.60 36.83 202.90 36.50 203.20 36.80 203.50 36.90 203.80 36.29 204.10 36.26 204.40 37.04 204.70 36.62 205.00 37.08 205.30 37.22 205.60 36.90 205.90 36.88 206.20 37.01 206.50 37.89 206.80 36.60 207.10 37.89 207.40 37.59 207.70 37.38 208.00 37.86 208.30 37.75 208.60 37.48 208.90 37.87 209.20 38.03 209.50 38.23 209.80 38.17 210.10 38.17 210.40 37.42 210.70 38.13 211.00 38.70 211.30 38.84 211.60 38.35 211.90 38.52 212.20 38.46 212.50 38.45 212.80 39.28 213.10 39.53 213.40 39.28 213.70 39.54 214.00 40.06 214.30 39.17 214.60 39.71 214.90 39.77 215.20 40.29 215.50 39.46 215.80 39.46 216.10 40.36 216.40 40.03 216.70 40.50 217.00 40.74 217.30 40.79 217.60 41.06 217.90 40.90 218.20 40.90 218.50 40.38 218.80 41.46 219.10 40.68 219.40 41.25 219.70 41.91 220.00 40.84 220.30 41.91 220.60 41.44 220.90 41.83 221.20 41.35 221.50 41.31 221.80 42.43 222.10 43.20 222.40 42.82 222.70 42.66 223.00 42.82 223.30 43.55 223.60 43.64 223.90 42.91 224.20 42.88 224.50 44.13 224.80 43.37 225.10 43.91 225.40 44.25 225.70 43.58 226.00 43.81 226.30 43.59 226.60 44.72 226.90 44.34 227.20 44.86 227.50 44.12 227.80 45.05 228.10 44.56 228.40 44.94 228.70 44.63 229.00 45.18 229.30 45.67 229.60 45.42 229.90 45.54 230.20 46.00 230.50 45.85 230.80 46.33 231.10 46.34 231.40 46.81 231.70 46.47 232.00 46.86 232.30 47.04 232.60 47.73 232.90 47.46 233.20 47.04 233.50 47.16 233.80 47.78 234.10 47.81 234.40 47.80 234.70 48.08 235.00 48.76 235.30 47.93 235.60 48.90 235.90 48.85 236.20 49.72 236.50 48.61 236.80 49.62 237.10 49.54 237.40 49.82 237.70 50.12 238.00 50.87 238.30 50.43 238.60 50.65 238.90 50.06 239.20 51.02 239.50 50.42 239.80 51.05 240.10 51.43 240.40 51.94 240.70 51.91 241.00 51.75 241.30 52.13 241.60 51.85 241.90 52.09 242.20 52.18 242.50 52.65 242.80 52.38 243.10 52.22 243.40 52.28 243.70 53.81 244.00 52.21 244.30 53.12 244.60 53.20 244.90 53.34 245.20 53.17 245.50 53.90 245.80 53.86 246.10 53.58 246.40 53.94 246.70 53.73 247.00 54.52 247.30 55.27 247.60 55.25 247.90 55.16 248.20 54.90 248.50 55.04 248.80 55.36 249.10 55.95 249.40 55.47 249.70 55.56 250.00 55.23 250.30 55.92 250.60 56.16 250.90 56.03 251.20 56.10 251.50 56.68 251.80 57.01 252.10 56.77 252.40 57.55 252.70 57.32 253.00 57.76 253.30 58.43 253.60 57.81 253.90 58.20 254.20 58.29 254.50 58.46 254.80 58.93 255.10 58.36 255.40 59.30 255.70 58.80 256.00 59.30 256.30 60.07 256.60 59.26 256.90 60.65 257.20 61.05 257.50 60.95 257.80 60.98 258.10 60.94 258.40 61.02 258.70 62.15 259.00 61.08 259.30 61.66 259.60 62.08 259.90 61.86 260.20 61.76 260.50 62.56 260.80 62.65 261.10 62.15 261.40 62.79 261.70 62.91 262.00 63.29 262.30 63.94 262.60 64.39 262.90 63.89 263.20 64.71 263.50 64.80 263.80 64.73 264.10 65.97 264.40 65.86 264.70 66.27 265.00 65.88 265.30 67.23 265.60 67.38 265.90 67.95 266.20 67.77 266.50 68.83 266.80 68.62 267.10 68.55 267.40 69.17 267.70 69.51 268.00 69.29 268.30 70.21 268.60 70.22 268.90 70.66 269.20 71.23 269.50 72.30 269.80 71.72 270.10 71.88 270.40 73.00 270.70 73.04 271.00 71.81 271.30 75.23 271.60 75.18 271.90 75.47 272.20 77.45 272.50 77.79 272.80 77.36 273.10 77.00 273.40 76.86 273.70 77.61 274.00 79.05 274.30 81.21 274.60 81.87 274.90 78.99 275.20 78.19 275.50 78.35 275.80 77.49 276.10 77.69 276.40 77.88 276.70 79.89 277.00 81.46 277.30 80.39 277.60 82.32 277.90 84.92 278.20 84.78 278.50 85.18 278.80 85.50 279.10 84.68 279.40 83.42 279.70 81.43 280.00 83.10 280.30 83.97 280.60 84.90 280.90 83.89 281.20 84.14 281.50 84.64 281.80 84.74 282.10 87.22 282.40 89.07 282.70 90.26 283.00 87.90 283.30 86.92 283.60 87.77 283.90 87.68 284.20 86.19 284.50 88.39 284.80 88.81 285.10 90.56 285.40 89.12 285.70 88.21 286.00 88.33 286.30 88.95 286.60 89.36 286.90 90.16 287.20 89.95 287.50 90.13 287.80 90.17 288.10 90.66 288.40 91.37 288.70 90.15 289.00 92.89 289.30 93.41 289.60 91.97 289.90 92.76 290.20 94.63 290.50 95.16 290.80 94.38 291.10 93.05 291.40 92.80 291.70 93.69 292.00 94.74 292.30 94.78 292.60 95.79 292.90 95.73 293.20 96.09 293.50 95.98 293.80 96.96 294.10 96.17 294.40 97.37 294.70 97.49 295.00 97.21 295.30 97.61 295.60 96.86 295.90 97.77 296.20 97.10 296.50 96.56 296.80 97.42 297.10 98.43 297.40 98.05 297.70 96.57 298.00 98.08 298.30 99.13 298.60 99.73 298.90 98.48 299.20 99.18 299.50 99.84 299.80 100.20 300.10 98.63 300.40 99.18 300.70 99.19 301.00 99.49 301.30 99.90 301.60 100.92 301.90 100.46 302.20 100.03 302.50 99.82 302.80 101.17 303.10 100.23 303.40 100.86 303.70 102.10 304.00 102.30 304.30 102.46 304.60 100.86 304.90 103.10 305.20 102.10 305.50 102.91 305.80 102.27 306.10 103.02 306.40 102.62 306.70 102.79 307.00 102.82 307.30 102.62 307.60 103.19 307.90 103.75 308.20 102.84 308.50 103.60 308.80 103.12 309.10 103.15 309.40 103.07 309.70 104.93 310.00 104.22 310.30 104.07 310.60 104.89 310.90 103.41 311.20 104.63 311.50 104.39 311.80 105.17 312.10 104.25 312.40 105.11 312.70 105.15 313.00 106.01 313.30 105.11 313.60 105.41 313.90 105.72 314.20 105.78 314.50 105.91 314.80 105.75 315.10 105.24 315.40 106.47 315.70 106.82 316.00 106.02 316.30 105.68 316.60 106.63 316.90 105.66 317.20 106.35 317.50 105.47 317.80 107.07 318.10 105.80 318.40 106.64 318.70 106.21 319.00 106.35 319.30 106.03 319.60 106.68" stroke="#000000" stroke-width="1.1" fill="none" stroke-linejoin="round"/><g font-family='"Liberation Sans", sans-serif' font-size="5.0" letter-spacing="0" opacity="0.8"><text x="183.8" y="31.8" fill="#444">4.0 V</text><text x="183.8" y="45.0" fill="#ff0000">3.5 V</text><text x="183.8" y="56.6" fill="#00dd00">3.0 V</text><text x="183.8" y="66.3" fill="#0000ff">2.5 V</text><text x="183.8" y="76.2" fill="#8c8c14">2.0 V</text><text x="183.8" y="85.3" fill="#ff00ff">1.5 V</text><text x="183.8" y="93.0" fill="#28288c">1.0 V</text><text x="183.8" y="100.8" fill="#2a9a9a">0.5 V</text><text x="183.8" y="107.9" fill="#ff77ff">0.0 V</text></g><path d="M169.60 113.8v-1.0M169.60 17.2v1.0M181.21 113.8v-1.6M181.21 17.2v1.6M192.82 113.8v-1.0M192.82 17.2v1.0M204.42 113.8v-1.6M204.42 17.2v1.6M216.03 113.8v-1.0M216.03 17.2v1.0M227.64 113.8v-1.6M227.64 17.2v1.6M239.25 113.8v-1.0M239.25 17.2v1.0M250.85 113.8v-1.6M250.85 17.2v1.6M262.46 113.8v-1.0M262.46 17.2v1.0M274.07 113.8v-1.6M274.07 17.2v1.6M285.68 113.8v-1.0M285.68 17.2v1.0M297.28 113.8v-1.6M297.28 17.2v1.6M308.89 113.8v-1.0M308.89 17.2v1.0M320.50 113.8v-1.6M320.50 17.2v1.6M169.6 113.80h1.6M320.5 113.80h-1.6M169.6 101.72h1.0M320.5 101.72h-1.0M169.6 89.65h1.6M320.5 89.65h-1.6M169.6 77.58h1.0M320.5 77.58h-1.0M169.6 65.50h1.6M320.5 65.50h-1.6M169.6 53.42h1.0M320.5 53.42h-1.0M169.6 41.35h1.6M320.5 41.35h-1.6M169.6 29.27h1.0M320.5 29.27h-1.0M169.6 17.20h1.6M320.5 17.20h-1.6" stroke="#333" stroke-width="0.6"/><g font-family='"Liberation Sans", sans-serif' font-size="4.1" fill="#555" text-anchor="end"><text x="167.2" y="115.20">0.00</text><text x="167.2" y="91.05">0.01</text><text x="167.2" y="66.90">0.02</text><text x="167.2" y="42.75">0.03</text><text x="167.2" y="18.60">0.04</text></g><g font-family='"Liberation Sans", sans-serif' font-size="5.7" fill="#333" text-anchor="middle"><text x="181.21" y="120.6">1800</text><text x="204.42" y="120.6">2000</text><text x="227.64" y="120.6">2200</text><text x="250.85" y="120.6">2400</text><text x="274.07" y="120.6">2600</text><text x="297.28" y="120.6">2800</text><text x="320.50" y="120.6">3000</text></g><text x="219.8" y="131.2" font-family='"Liberation Sans", sans-serif' font-size="6.8" fill="#333">Wavelength (nm)</text><text transform="translate(156.2 101.4) rotate(-90)" font-family='"Liberation Sans", sans-serif' font-size="5.9" fill="#444">Photocurrent (Arb. Units)</text></svg></body></html>
